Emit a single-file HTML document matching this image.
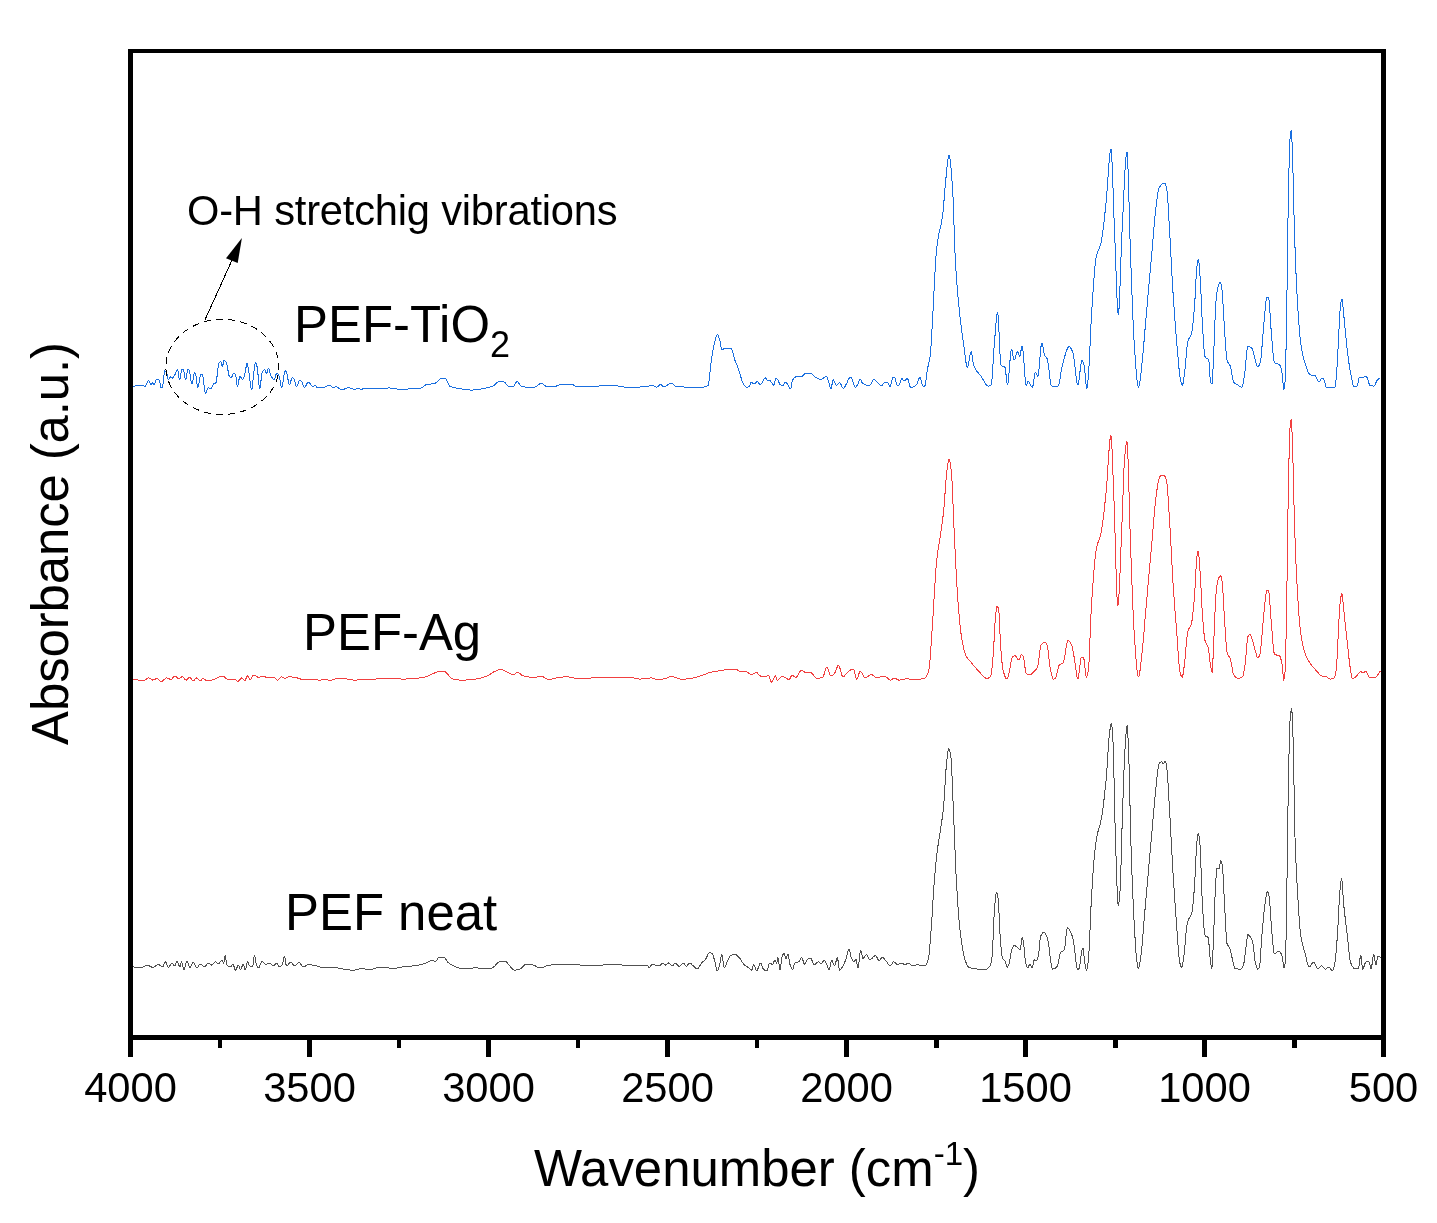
<!DOCTYPE html>
<html><head><meta charset="utf-8"><title>FTIR spectra</title>
<style>
html,body{margin:0;padding:0;background:#fff;}
body{width:1437px;height:1223px;overflow:hidden;}
svg{display:block;will-change:transform;}
text{font-family:"Liberation Sans",sans-serif;fill:#000;}
.tl text{font-size:41.67px;text-anchor:middle;}
.curve{fill:none;stroke-linejoin:round;stroke-linecap:butt;shape-rendering:crispEdges;}
</style></head>
<body>
<svg width="1437" height="1223" viewBox="0 0 1437 1223">
<rect x="0" y="0" width="1437" height="1223" fill="#fff"/>
<!-- spectra -->
<path class="curve" stroke="#1a6fdf" stroke-width="1" d="M133.1 386.5L133.6 386.3L134.1 386.2L134.6 386.1L135.1 386.0L135.6 385.9L136.1 385.8L136.6 385.7L137.1 385.6L137.6 385.6L138.1 385.5L138.6 385.5L139.1 385.5L139.6 385.4L140.1 385.4L140.6 385.4L141.1 385.4L141.6 385.4L142.1 385.4L142.6 385.4L143.1 385.4L143.6 385.6L144.1 386.0L144.6 386.4L144.9 386.5L145.1 386.4L145.6 385.9L146.1 384.9L146.6 383.7L147.1 382.5L147.6 381.4L148.1 380.7L148.5 380.5L148.6 380.5L149.1 381.1L149.6 382.1L150.1 383.4L150.6 384.4L151.1 385.0L151.2 385.0L151.6 384.5L152.1 383.4L152.5 382.9L152.6 382.9L153.1 383.6L153.6 384.5L153.9 384.7L154.1 384.6L154.6 383.8L155.1 382.5L155.6 381.1L156.1 379.8L156.6 379.2L156.7 379.2L157.1 379.2L157.6 379.4L158.1 379.6L158.6 379.9L159.1 380.2L159.4 380.5L159.6 380.9L160.1 383.2L160.6 386.0L161.1 387.7L161.2 387.8L161.6 387.7L162.1 387.3L162.5 386.8L162.6 386.6L163.1 383.7L163.6 379.0L164.1 374.2L164.6 371.2L164.8 370.9L165.1 370.9L165.6 371.1L166.1 371.4L166.3 371.5L166.6 372.1L167.1 374.3L167.6 377.1L168.1 379.2L168.4 379.6L168.6 379.5L169.1 379.0L169.6 378.1L170.1 377.3L170.6 376.9L171.1 377.3L171.6 377.9L172.0 378.2L172.1 378.2L172.6 378.0L173.1 377.5L173.6 376.8L174.1 376.1L174.2 376.0L174.6 375.3L175.1 374.2L175.6 373.0L176.1 371.7L176.6 370.6L177.1 369.9L177.5 369.7L177.6 369.8L178.1 371.7L178.6 375.0L179.1 378.2L179.6 379.6L180.1 378.4L180.6 375.7L181.1 372.4L181.6 369.9L182.0 369.1L182.1 369.1L182.6 369.2L183.1 369.6L183.3 369.7L183.6 370.3L184.1 372.7L184.6 375.8L185.1 378.5L185.6 379.6L186.1 378.4L186.6 375.7L187.1 372.4L187.6 369.9L188.0 369.1L188.1 369.1L188.6 369.6L189.1 370.4L189.2 370.6L189.6 371.9L190.1 374.7L190.6 378.1L191.1 381.2L191.6 383.2L191.9 383.6L192.1 383.4L192.6 381.9L193.1 379.2L193.6 376.2L194.1 373.7L194.6 372.4L194.7 372.4L195.1 372.8L195.6 374.1L195.9 375.1L196.1 376.1L196.6 380.2L197.1 384.9L197.6 387.7L197.7 387.8L198.1 387.2L198.6 385.3L199.1 382.5L199.6 379.5L200.1 376.7L200.6 374.8L201.0 374.2L201.1 374.2L201.6 374.4L202.1 374.8L202.4 375.1L202.6 375.5L203.1 377.9L203.6 381.6L204.1 385.8L204.6 389.7L205.1 392.4L205.5 393.2L205.6 393.2L206.1 392.5L206.6 391.2L207.1 389.8L207.6 388.5L208.1 387.8L208.2 387.8L208.6 387.9L209.1 388.0L209.6 388.3L210.1 388.5L210.6 388.7L210.9 388.7L211.1 388.6L211.6 388.0L212.1 386.9L212.6 385.6L213.1 384.4L213.6 383.7L213.7 383.6L214.1 383.4L214.6 383.3L215.1 383.2L215.6 383.0L215.8 382.9L216.1 382.3L216.6 379.7L217.1 375.7L217.6 371.3L218.1 367.0L218.6 363.8L219.1 362.4L219.6 362.2L220.1 362.0L220.6 361.9L220.9 361.9L221.1 362.2L221.6 364.4L222.1 366.6L222.3 366.9L222.6 366.4L223.1 364.1L223.6 361.5L224.1 360.2L224.6 360.4L225.1 360.8L225.6 361.4L226.1 362.1L226.3 362.4L226.6 363.1L227.1 365.2L227.6 368.0L228.1 371.0L228.6 373.8L229.1 375.9L229.6 376.9L230.1 377.1L230.6 377.3L231.1 377.4L231.4 377.4L231.6 377.3L232.1 376.4L232.6 375.1L233.1 373.8L233.6 373.3L234.1 373.4L234.6 373.6L235.1 373.9L235.4 374.2L235.6 374.7L236.1 377.7L236.6 381.9L237.1 385.4L237.5 386.5L237.6 386.4L238.1 384.9L238.6 382.1L239.1 379.0L239.6 376.8L239.9 376.4L240.1 376.5L240.6 376.9L241.1 377.7L241.6 378.6L242.1 379.3L242.6 379.6L243.1 379.2L243.6 378.1L244.1 376.5L244.6 374.9L244.8 374.2L245.1 373.0L245.6 370.1L246.1 366.9L246.6 364.3L247.1 363.3L247.6 364.5L248.1 367.2L248.6 370.6L248.9 372.4L249.1 373.6L249.6 377.3L250.1 381.3L250.6 385.2L251.1 388.1L251.6 389.6L251.7 389.6L252.1 388.4L252.6 384.3L253.1 378.9L253.6 373.9L253.8 372.4L254.1 370.3L254.6 366.6L255.1 363.6L255.6 362.4L256.1 363.1L256.6 364.8L257.1 366.9L257.6 370.3L258.1 375.3L258.6 380.9L259.1 385.6L259.6 388.4L259.8 388.7L260.1 388.0L260.6 384.5L261.1 379.6L261.6 374.9L262.1 372.4L262.6 371.5L263.1 370.8L263.6 370.2L264.1 369.9L264.6 369.7L264.7 369.7L265.1 370.2L265.6 371.5L266.1 372.8L266.5 373.3L266.6 373.3L267.1 372.2L267.6 370.5L268.1 368.9L268.5 368.4L268.6 368.4L269.1 369.5L269.6 371.5L270.1 373.6L270.6 375.1L271.1 376.0L271.6 376.9L272.1 377.7L272.6 378.4L273.1 379.0L273.6 379.4L274.1 379.6L274.3 379.6L274.6 379.3L275.1 377.8L275.6 375.8L276.1 374.1L276.6 373.3L277.1 373.4L277.6 373.8L278.1 374.3L278.6 375.0L279.1 375.8L279.2 376.0L279.6 377.3L280.1 380.1L280.6 383.4L281.1 386.3L281.6 387.8L281.7 387.8L282.1 387.1L282.6 384.8L283.1 381.5L283.6 377.7L284.1 374.2L284.6 371.6L285.1 370.6L285.6 370.9L286.1 371.5L286.6 372.4L287.1 374.1L287.6 376.9L288.1 380.1L288.6 382.9L289.1 384.5L289.3 384.7L289.6 384.5L290.1 383.5L290.6 381.9L291.1 380.2L291.6 378.6L292.1 377.6L292.4 377.4L292.6 377.4L293.1 377.9L293.6 378.6L294.1 379.4L294.2 379.6L294.6 380.6L295.1 382.5L295.6 384.5L296.1 386.0L296.5 386.5L296.6 386.5L297.1 385.9L297.6 384.8L298.1 383.4L298.6 382.0L299.1 380.9L299.6 380.5L300.1 380.6L300.6 380.8L301.1 381.2L301.4 381.4L301.6 381.6L302.1 382.5L302.6 383.7L303.1 385.1L303.6 386.3L304.1 387.2L304.5 387.4L304.6 387.4L305.1 387.0L305.6 386.3L306.1 385.3L306.6 384.2L307.1 383.3L307.6 382.6L308.1 382.3L308.6 382.4L309.1 382.8L309.6 383.2L310.1 383.8L310.6 384.5L311.1 385.1L311.6 385.7L312.1 386.3L312.6 386.6L313.1 386.8L313.2 386.8L313.6 386.6L314.1 386.1L314.6 385.6L315.0 385.4L315.1 385.4L315.6 385.7L316.1 386.3L316.6 386.9L317.1 387.5L317.6 387.8L317.7 387.8L318.1 387.8L318.6 387.8L319.1 387.8L319.6 387.8L320.1 387.7L320.6 387.7L321.1 387.7L321.6 387.6L322.1 387.6L322.6 387.5L323.1 387.5L323.6 387.4L324.0 387.4L324.1 387.4L324.6 387.3L325.1 387.1L325.6 386.8L326.1 386.5L326.6 386.2L327.1 385.9L327.6 385.6L328.1 385.4L328.6 385.2L329.1 385.0L329.5 385.0L329.6 385.0L330.1 385.2L330.6 385.6L331.1 386.2L331.6 386.7L332.1 387.3L332.6 387.7L333.1 387.8L333.6 387.7L334.1 387.5L334.6 387.2L335.1 387.0L335.6 386.8L335.8 386.8L336.1 386.8L336.6 386.9L337.1 387.1L337.6 387.4L338.1 387.6L338.6 388.0L339.1 388.3L339.6 388.6L340.1 388.9L340.6 389.2L341.1 389.4L341.6 389.5L342.1 389.6L342.6 389.6L343.1 389.5L343.6 389.3L344.1 389.2L344.6 389.0L345.1 388.8L345.6 388.6L346.1 388.3L346.6 388.2L347.1 388.0L347.6 387.9L348.1 387.8L348.4 387.8L348.6 387.8L349.1 387.8L349.6 387.9L350.1 388.0L350.6 388.2L351.1 388.3L351.6 388.5L352.1 388.7L352.6 388.8L353.1 389.0L353.6 389.1L354.1 389.2L354.6 389.2L354.8 389.2L355.1 389.2L355.6 389.1L356.1 389.1L356.6 388.9L357.1 388.8L357.6 388.8L358.1 388.7L358.4 388.7L358.6 388.7L359.1 388.8L359.6 389.0L360.1 389.2L360.6 389.3L361.1 389.4L361.6 389.3L362.1 389.2L362.6 389.0L363.1 388.8L363.6 388.7L363.8 388.7L364.1 388.7L364.6 388.7L365.1 388.6L365.6 388.6L366.1 388.6L366.6 388.6L367.1 388.6L367.6 388.6L368.1 388.6L368.6 388.6L369.1 388.5L369.6 388.5L370.1 388.5L370.6 388.5L371.1 388.5L371.6 388.5L372.1 388.5L372.6 388.5L373.1 388.5L373.6 388.5L374.1 388.5L374.6 388.5L375.1 388.5L375.6 388.5L376.1 388.5L376.6 388.5L377.1 388.5L377.6 388.5L378.1 388.5L378.6 388.4L379.1 388.4L379.6 388.4L380.1 388.4L380.6 388.4L381.1 388.4L381.6 388.4L382.1 388.4L382.6 388.4L383.1 388.4L383.6 388.3L384.1 388.3L384.6 388.3L385.0 388.3L385.1 388.3L385.6 388.3L386.1 388.2L386.6 388.1L387.1 388.0L387.6 388.0L388.1 387.9L388.4 387.9L388.6 387.9L389.1 387.9L389.6 387.9L390.1 388.0L390.6 388.0L391.1 388.1L391.6 388.1L392.1 388.2L392.6 388.3L393.1 388.3L393.6 388.4L394.1 388.5L394.6 388.6L395.1 388.7L395.6 388.8L396.1 388.8L396.6 388.9L397.1 389.0L397.6 389.1L398.1 389.1L398.6 389.2L399.1 389.2L399.6 389.3L400.1 389.3L400.6 389.3L400.9 389.3L401.1 389.3L401.6 389.3L402.1 389.3L402.6 389.3L403.1 389.3L403.6 389.2L404.1 389.2L404.6 389.2L405.1 389.2L405.6 389.1L406.1 389.1L406.6 389.1L407.1 389.0L407.6 389.0L408.1 389.0L408.6 388.9L409.1 388.9L409.2 388.9L409.6 388.9L410.1 388.9L410.6 388.8L411.1 388.8L411.6 388.8L412.1 388.8L412.6 388.7L413.1 388.7L413.6 388.7L414.1 388.7L414.6 388.6L415.1 388.6L415.6 388.6L416.1 388.5L416.6 388.5L417.1 388.5L417.6 388.4L418.1 388.4L418.6 388.3L419.1 388.3L419.6 388.2L420.1 388.2L420.6 388.1L421.1 388.0L421.6 387.9L421.8 387.9L422.1 387.8L422.6 387.4L423.1 386.9L423.6 386.3L424.1 385.8L424.6 385.4L424.9 385.2L425.1 385.1L425.6 385.0L426.1 384.8L426.6 384.7L427.1 384.6L427.6 384.5L428.1 384.4L428.6 384.3L429.1 384.2L429.6 384.2L430.1 384.1L430.6 384.1L431.1 384.0L431.6 383.9L432.1 383.9L432.6 383.8L433.1 383.7L433.6 383.6L434.1 383.5L434.6 383.3L435.1 383.2L435.3 383.1L435.6 383.0L436.1 382.7L436.6 382.2L437.1 381.8L437.6 381.2L438.1 380.7L438.6 380.2L439.1 379.7L439.6 379.3L440.1 379.0L440.5 378.9L440.6 378.9L441.1 378.8L441.6 378.7L442.1 378.6L442.6 378.5L443.1 378.4L443.6 378.4L444.1 378.3L444.6 378.3L445.1 378.3L445.6 378.5L446.1 379.1L446.6 380.0L447.1 381.0L447.6 382.2L448.1 383.4L448.6 384.5L449.1 385.4L449.6 386.0L449.9 386.2L450.1 386.3L450.6 386.5L451.1 386.7L451.6 386.9L452.1 387.1L452.6 387.2L453.1 387.4L453.6 387.5L454.1 387.6L454.6 387.8L455.1 387.9L455.6 388.0L456.1 388.1L456.6 388.2L457.1 388.3L457.6 388.3L458.1 388.4L458.6 388.5L459.1 388.6L459.6 388.6L460.1 388.7L460.6 388.8L461.1 388.9L461.4 388.9L461.6 388.9L462.1 389.0L462.6 389.1L463.1 389.2L463.6 389.3L464.1 389.3L464.6 389.4L465.1 389.5L465.6 389.6L466.1 389.6L466.6 389.7L467.1 389.8L467.6 389.8L468.1 389.9L468.6 389.9L469.1 389.9L469.6 390.0L470.1 390.0L470.6 390.0L470.8 390.0L471.1 390.0L471.6 390.0L472.1 390.0L472.6 390.0L473.1 389.9L473.6 389.9L474.1 389.9L474.6 389.8L475.1 389.8L475.6 389.7L476.1 389.6L476.6 389.6L477.1 389.5L477.6 389.4L478.1 389.4L478.6 389.3L479.1 389.2L479.6 389.1L480.1 389.0L480.6 389.0L481.1 388.9L481.6 388.8L482.1 388.7L482.6 388.6L483.1 388.5L483.6 388.4L484.1 388.4L484.4 388.3L484.6 388.3L485.1 388.2L485.6 388.1L486.1 388.0L486.6 387.9L487.1 387.8L487.6 387.7L488.1 387.6L488.6 387.5L489.1 387.3L489.6 387.2L490.1 387.1L490.6 386.9L491.1 386.8L491.6 386.6L492.1 386.4L492.6 386.2L492.7 386.2L493.1 386.0L493.6 385.7L494.1 385.3L494.6 384.8L495.1 384.4L495.6 383.8L496.1 383.3L496.6 382.9L497.1 382.4L497.6 382.1L498.1 381.8L498.6 381.6L499.0 381.6L499.1 381.6L499.6 381.6L500.1 381.6L500.6 381.6L501.1 381.6L501.6 381.6L502.1 381.6L502.6 381.6L503.1 381.6L503.2 381.6L503.6 381.7L504.1 381.9L504.6 382.2L505.1 382.7L505.6 383.3L506.1 383.9L506.6 384.5L507.1 385.0L507.6 385.6L508.1 386.0L508.6 386.4L509.1 386.6L509.4 386.6L509.6 386.6L510.1 386.6L510.6 386.6L511.1 386.5L511.6 386.5L512.1 386.4L512.6 386.4L513.1 386.3L513.6 386.2L514.1 385.9L514.6 385.1L515.1 384.2L515.6 383.2L516.1 382.4L516.6 381.8L517.0 381.6L517.1 381.6L517.6 381.8L518.1 382.2L518.6 382.8L519.1 383.5L519.6 384.3L520.1 385.1L520.6 385.8L521.1 386.3L521.6 386.7L522.0 386.8L522.1 386.8L522.6 386.8L523.1 386.9L523.6 386.9L524.1 386.9L524.6 387.0L525.1 387.0L525.6 387.0L526.1 387.0L526.6 387.1L527.1 387.1L527.6 387.1L528.1 387.1L528.6 387.1L529.1 387.1L529.6 387.1L530.1 387.2L530.6 387.2L531.1 387.2L531.6 387.2L532.1 387.2L532.6 387.2L533.1 387.2L533.6 387.2L534.1 387.2L534.5 387.2L534.6 387.2L535.1 387.1L535.6 386.9L536.1 386.7L536.6 386.3L537.1 386.0L537.6 385.6L538.1 385.1L538.6 384.7L539.1 384.4L539.6 384.0L540.1 383.8L540.6 383.6L541.1 383.5L541.2 383.5L541.6 383.5L542.1 383.7L542.6 383.9L543.1 384.3L543.6 384.6L544.1 385.0L544.6 385.4L545.1 385.8L545.6 386.1L546.1 386.4L546.6 386.5L547.0 386.6L547.1 386.6L547.6 386.6L548.1 386.7L548.6 386.7L549.1 386.7L549.6 386.7L550.1 386.7L550.6 386.8L551.1 386.8L551.6 386.8L552.1 386.8L552.6 386.8L553.1 386.8L553.3 386.8L553.6 386.8L554.1 386.7L554.6 386.6L555.1 386.5L555.6 386.4L556.1 386.2L556.6 386.0L557.1 385.8L557.6 385.6L558.1 385.4L558.6 385.2L559.1 385.0L559.6 384.8L560.1 384.7L560.6 384.6L561.1 384.5L561.6 384.5L562.1 384.5L562.6 384.5L563.1 384.5L563.6 384.5L564.1 384.5L564.6 384.5L565.1 384.5L565.6 384.5L566.1 384.5L566.6 384.5L567.1 384.5L567.6 384.5L568.1 384.5L568.6 384.5L569.1 384.5L569.6 384.5L570.1 384.5L570.6 384.5L571.1 384.5L571.6 384.5L572.1 384.5L572.6 384.6L573.1 384.8L573.6 385.0L574.1 385.3L574.6 385.6L575.1 385.9L575.6 386.1L576.1 386.2L576.2 386.2L576.6 386.2L577.1 386.2L577.6 386.2L578.1 386.2L578.6 386.2L579.1 386.2L579.6 386.2L580.1 386.2L580.6 386.2L581.1 386.2L581.6 386.2L582.1 386.2L582.6 386.2L583.1 386.2L583.6 386.2L584.1 386.2L584.6 386.2L585.1 386.1L585.6 386.1L586.1 386.1L586.6 386.1L587.1 386.1L587.6 386.1L588.1 386.1L588.6 386.1L589.1 386.1L589.6 386.1L590.1 386.1L590.6 386.1L591.1 386.1L591.6 386.1L592.1 386.1L592.6 386.1L593.1 386.0L593.6 386.0L594.1 386.0L594.6 386.0L595.1 386.0L595.6 386.0L596.1 386.0L596.6 386.0L597.1 386.0L597.6 386.0L598.1 386.0L598.6 386.0L599.1 386.0L599.6 385.9L600.1 385.9L600.6 385.9L601.1 385.9L601.6 385.9L602.1 385.9L602.6 385.9L603.1 385.9L603.6 385.9L604.1 385.9L604.6 385.9L605.1 385.9L605.6 385.9L606.1 385.9L606.6 385.9L607.1 385.9L607.6 385.8L608.1 385.8L608.6 385.8L609.1 385.8L609.6 385.8L610.1 385.8L610.6 385.8L611.1 385.8L611.6 385.8L612.1 385.8L612.6 385.8L613.1 385.8L613.6 385.8L614.1 385.8L614.6 385.8L615.1 385.8L615.6 385.8L615.9 385.8L616.1 385.8L616.6 385.8L617.1 385.9L617.6 385.9L618.1 386.0L618.6 386.0L619.1 386.1L619.6 386.2L620.1 386.3L620.6 386.4L621.1 386.5L621.6 386.6L622.1 386.7L622.6 386.8L623.1 386.9L623.6 387.0L624.1 387.0L624.6 387.1L625.1 387.1L625.6 387.2L626.1 387.2L626.3 387.2L626.6 387.2L627.1 387.2L627.6 387.2L628.1 387.2L628.6 387.2L629.1 387.2L629.6 387.2L630.1 387.2L630.6 387.2L631.1 387.2L631.6 387.2L632.1 387.2L632.6 387.2L633.1 387.1L633.6 387.1L634.1 387.1L634.6 387.1L635.1 387.1L635.6 387.1L636.1 387.1L636.6 387.1L637.1 387.1L637.6 387.0L638.1 387.0L638.6 387.0L639.1 387.0L639.6 387.0L640.1 387.0L640.6 386.9L641.1 386.9L641.6 386.9L642.1 386.9L642.6 386.8L643.1 386.8L643.6 386.8L644.1 386.8L644.6 386.7L645.1 386.7L645.6 386.7L646.1 386.7L646.6 386.6L647.1 386.6L647.2 386.6L647.6 386.6L648.1 386.5L648.6 386.3L649.1 386.1L649.6 385.9L650.1 385.7L650.6 385.6L651.1 385.4L651.6 385.3L652.1 385.2L652.4 385.2L652.6 385.2L653.1 385.3L653.6 385.6L654.1 385.9L654.6 386.3L655.1 386.6L655.6 386.9L656.1 387.1L656.6 387.2L657.1 387.1L657.6 386.7L658.1 386.3L658.6 385.7L659.1 385.2L659.6 384.8L660.1 384.5L660.4 384.5L660.6 384.5L661.1 384.7L661.6 385.1L662.1 385.6L662.6 386.1L663.1 386.5L663.6 386.8L663.9 386.8L664.1 386.8L664.6 386.7L665.1 386.6L665.6 386.3L666.1 386.0L666.6 385.7L667.1 385.4L667.6 385.0L668.1 384.7L668.6 384.3L669.1 384.0L669.6 383.7L670.1 383.4L670.6 383.2L671.1 383.1L671.5 383.1L671.6 383.1L672.1 383.3L672.6 383.6L673.1 384.1L673.6 384.6L674.1 385.1L674.6 385.6L675.1 386.0L675.6 386.2L675.7 386.2L676.1 386.3L676.6 386.3L677.1 386.4L677.6 386.4L678.1 386.5L678.6 386.6L679.1 386.6L679.6 386.7L680.1 386.7L680.6 386.8L681.1 386.8L681.6 386.8L682.1 386.9L682.6 386.9L683.1 386.9L683.6 387.0L684.1 387.0L684.6 387.0L685.1 387.1L685.6 387.1L686.1 387.1L686.6 387.1L687.1 387.1L687.6 387.2L688.1 387.2L688.6 387.2L689.1 387.2L689.6 387.2L690.1 387.2L690.6 387.2L691.1 387.2L691.3 387.2L691.6 387.2L692.1 387.2L692.6 387.2L693.1 387.2L693.6 387.2L694.1 387.2L694.6 387.2L695.1 387.2L695.6 387.2L696.1 387.2L696.6 387.2L697.1 387.2L697.6 387.2L698.1 387.2L698.6 387.2L699.1 387.2L699.6 387.2L700.1 387.2L700.6 387.2L701.1 387.2L701.6 387.2L701.8 387.2L702.1 387.2L702.6 387.2L703.1 387.1L703.6 387.1L704.1 387.0L704.6 386.9L705.1 386.8L705.6 386.6L706.1 386.5L706.6 386.3L707.1 386.1L707.6 385.8L708.0 385.6L708.1 385.5L708.6 383.7L709.1 380.3L709.6 375.8L710.1 370.8L710.6 366.1L711.1 362.2L711.6 358.9L712.1 355.5L712.6 352.3L713.1 349.3L713.6 346.5L714.1 344.2L714.3 343.4L714.6 342.2L715.1 340.3L715.6 338.4L716.1 336.7L716.6 335.5L717.1 334.7L717.4 334.6L717.6 334.7L718.1 335.3L718.6 336.5L719.1 338.0L719.5 339.2L719.6 339.5L720.1 341.8L720.6 344.7L721.1 347.5L721.6 349.5L722.0 350.1L722.1 350.1L722.6 349.9L723.1 349.4L723.6 348.9L724.1 348.4L724.6 348.2L724.7 348.2L725.1 348.2L725.6 348.2L726.1 348.2L726.6 348.2L727.1 348.3L727.6 348.3L728.1 348.3L728.6 348.3L729.1 348.4L729.6 348.4L730.1 348.5L730.6 348.5L731.0 348.6L731.1 348.6L731.6 349.2L732.1 350.2L732.6 351.7L733.1 353.5L733.6 355.5L734.1 357.4L734.6 359.3L735.1 360.8L735.2 361.1L735.6 362.1L736.1 363.3L736.6 364.5L737.1 365.6L737.6 366.8L738.1 368.0L738.3 368.5L738.6 369.3L739.1 370.9L739.6 372.5L740.1 374.3L740.6 376.0L741.1 377.8L741.6 379.4L742.1 381.0L742.6 382.3L743.1 383.4L743.5 384.1L743.6 384.2L744.1 385.0L744.6 385.7L745.1 386.3L745.6 386.8L746.1 387.1L746.6 387.2L747.1 387.2L747.6 387.0L748.1 386.9L748.6 386.6L749.1 386.2L749.6 385.8L749.8 385.6L750.1 384.7L750.6 382.3L750.8 382.0L751.1 382.1L751.6 382.3L752.1 382.8L752.6 383.3L753.1 383.8L753.6 384.0L753.9 384.1L754.1 384.1L754.6 383.8L755.1 383.3L755.6 382.7L756.1 382.2L756.6 381.8L757.1 381.6L757.6 381.8L758.1 382.3L758.6 383.0L759.1 383.7L759.6 384.2L760.1 384.5L760.2 384.5L760.6 384.4L761.1 384.0L761.6 383.3L762.1 382.5L762.6 381.5L763.1 380.6L763.6 379.7L764.1 378.8L764.6 378.2L765.1 377.9L765.4 377.8L765.6 377.9L766.1 378.5L766.6 379.4L767.1 380.2L767.5 380.4L767.6 380.4L768.1 380.4L768.6 380.4L769.1 380.4L769.6 380.4L770.1 380.6L770.6 381.1L771.1 381.8L771.6 382.6L772.1 383.5L772.6 384.2L773.1 384.8L773.6 385.2L773.8 385.2L774.1 384.8L774.6 383.0L775.1 380.5L775.6 378.7L775.9 378.3L776.1 378.3L776.6 378.5L777.1 378.9L777.6 379.4L778.0 379.9L778.1 380.0L778.6 381.2L779.1 382.8L779.6 384.2L780.0 384.7L780.1 384.7L780.6 384.9L781.1 385.0L781.6 385.1L782.1 385.1L782.6 385.2L783.1 385.2L783.2 385.2L783.6 384.9L784.1 383.9L784.6 382.8L785.1 382.1L785.3 382.0L785.6 382.1L786.1 382.4L786.6 382.9L787.1 383.6L787.6 384.2L787.8 384.5L788.1 384.9L788.6 385.9L789.1 387.0L789.6 388.0L790.1 388.7L790.5 388.9L790.6 388.8L791.1 387.3L791.6 384.5L792.1 381.6L792.6 379.9L793.1 379.2L793.6 378.7L794.1 378.1L794.6 377.7L795.1 377.2L795.6 376.9L796.1 376.6L796.6 376.4L797.1 376.3L797.6 376.2L797.8 376.2L798.1 376.2L798.6 376.3L799.1 376.4L799.6 376.6L800.1 376.7L800.6 376.8L800.9 376.8L801.1 376.8L801.6 376.6L802.1 376.2L802.6 375.8L803.1 375.3L803.6 374.7L804.1 374.3L804.6 373.9L805.1 373.7L805.6 373.6L806.1 373.5L806.6 373.4L807.1 373.3L807.6 373.2L808.1 373.1L808.6 373.1L809.1 373.0L809.6 373.0L810.1 373.0L810.3 373.0L810.6 373.0L811.1 373.2L811.6 373.5L812.1 373.9L812.6 374.4L813.1 375.0L813.6 375.5L814.1 376.1L814.6 376.5L815.1 376.9L815.5 377.2L815.6 377.3L816.1 377.5L816.6 377.8L817.1 378.1L817.6 378.3L818.1 378.6L818.6 378.8L819.1 379.0L819.6 379.1L820.1 379.2L820.6 379.3L820.8 379.3L821.1 379.3L821.6 379.1L822.1 378.9L822.6 378.6L823.1 378.3L823.6 378.0L823.9 377.8L824.1 377.7L824.6 377.3L825.1 377.0L825.6 376.6L826.1 376.4L826.4 376.4L826.6 376.5L827.1 377.3L827.6 378.5L828.1 379.9L828.6 381.5L829.1 383.7L829.6 385.9L830.1 387.7L830.6 388.8L830.8 388.9L831.1 388.5L831.6 386.7L832.1 384.1L832.6 381.6L833.1 380.1L833.3 379.9L833.6 380.0L834.1 380.8L834.6 381.9L835.1 383.2L835.6 384.3L836.1 385.1L836.4 385.2L836.6 385.2L837.1 384.9L837.6 384.4L838.1 383.8L838.6 383.2L839.1 382.8L839.5 382.7L839.6 382.7L840.1 383.1L840.6 383.8L841.1 384.8L841.6 385.9L842.1 387.0L842.6 387.8L843.1 388.3L843.3 388.3L843.6 388.2L844.1 387.9L844.6 387.2L845.1 386.4L845.6 385.4L846.1 384.4L846.6 383.5L846.8 383.1L847.1 382.5L847.6 381.2L848.1 380.0L848.6 378.9L848.9 378.5L849.1 378.3L849.6 377.9L850.1 377.5L850.6 377.3L851.0 377.2L851.1 377.2L851.6 377.8L852.1 378.9L852.6 380.4L853.1 382.2L853.6 384.0L854.1 385.5L854.6 386.6L855.1 387.2L855.2 387.2L855.6 387.1L856.1 386.7L856.6 386.1L857.1 385.3L857.6 384.4L858.1 383.5L858.3 383.1L858.6 382.4L859.1 380.8L859.6 379.4L860.0 378.9L860.1 378.9L860.6 379.4L861.1 380.4L861.6 381.6L862.1 382.6L862.5 383.1L862.6 383.2L863.1 383.6L863.6 383.9L864.1 384.3L864.6 384.6L865.1 384.8L865.6 385.0L866.1 385.1L866.6 385.2L866.7 385.2L867.1 385.2L867.6 385.2L868.1 385.2L868.6 385.2L869.1 385.2L869.6 385.2L869.8 385.2L870.1 385.1L870.6 384.6L871.1 383.9L871.6 382.9L872.1 381.8L872.6 380.8L873.1 380.0L873.6 379.5L874.0 379.3L874.1 379.3L874.6 379.5L875.1 379.9L875.6 380.4L876.1 380.9L876.6 381.5L877.1 382.0L877.6 382.5L878.1 383.0L878.6 383.6L879.1 384.1L879.6 384.7L880.1 385.1L880.6 385.4L881.1 385.6L881.3 385.6L881.6 385.5L882.1 385.3L882.6 384.8L883.1 384.2L883.6 383.5L884.1 382.9L884.6 382.4L885.1 382.1L885.5 382.0L885.6 382.0L886.1 382.1L886.6 382.2L887.1 382.4L887.6 382.7L888.1 383.0L888.2 383.1L888.6 383.7L889.1 385.0L889.6 386.2L890.1 386.8L890.6 386.0L891.1 384.0L891.6 381.6L892.1 379.3L892.6 377.9L892.8 377.8L893.1 377.8L893.6 377.8L894.1 377.8L894.6 377.8L894.9 377.8L895.1 378.0L895.6 379.7L896.1 382.3L896.6 384.5L897.0 385.2L897.1 385.2L897.6 385.2L898.1 385.2L898.6 385.2L899.0 385.2L899.1 385.2L899.6 384.4L900.1 382.9L900.6 381.1L901.1 379.5L901.6 378.6L901.8 378.5L902.1 378.6L902.6 379.1L903.1 379.8L903.6 380.5L904.1 381.0L904.3 381.0L904.6 380.9L905.1 380.6L905.6 380.0L906.1 379.5L906.6 378.9L907.1 378.6L907.4 378.5L907.6 378.6L908.1 379.6L908.6 381.4L909.1 383.5L909.6 385.4L910.1 386.8L910.5 387.2L910.6 387.2L911.1 387.2L911.6 387.1L912.1 387.1L912.6 387.0L913.1 386.9L913.6 386.8L913.7 386.8L914.1 386.7L914.6 386.4L915.1 386.0L915.6 385.5L916.1 384.9L916.6 384.3L916.8 384.1L917.1 383.6L917.6 382.4L918.1 381.0L918.6 379.6L919.1 378.3L919.6 377.5L919.9 377.4L920.1 377.5L920.6 378.5L921.1 380.3L921.6 382.4L922.1 384.4L922.6 385.8L923.0 386.2L923.1 386.2L923.6 386.2L924.1 386.2L924.6 386.2L924.7 386.2L925.1 385.4L925.6 382.7L926.1 378.9L926.6 374.8L927.1 371.1L927.2 370.5L927.6 368.4L928.1 366.1L928.6 364.0L929.1 361.8L929.6 359.3L930.1 356.1L930.4 353.8L930.6 351.8L931.1 344.6L931.6 335.9L931.9 330.8L932.1 327.5L932.6 318.7L933.1 309.2L933.6 299.4L934.1 289.5L934.6 279.8L935.1 270.6L935.6 262.3L936.1 255.1L936.6 249.3L936.8 247.4L937.1 244.9L937.6 241.3L938.1 238.2L938.6 235.5L939.1 233.0L939.6 230.8L940.1 228.7L940.6 226.5L941.1 224.2L941.6 221.6L942.1 218.7L942.6 215.3L942.9 213.0L943.1 211.2L943.6 205.8L944.1 199.4L944.6 192.8L945.1 186.7L945.4 183.6L945.6 181.7L946.1 176.5L946.6 171.2L947.1 166.2L947.6 161.7L948.1 158.2L948.6 156.0L949.0 155.4L949.1 155.4L949.6 156.7L950.1 159.6L950.6 163.9L951.1 169.3L951.6 175.5L952.1 182.4L952.6 189.5L952.7 191.0L953.1 198.7L953.6 212.2L954.1 227.7L954.6 242.9L955.1 255.3L955.2 257.2L955.6 264.1L956.1 272.1L956.6 279.4L957.1 286.0L957.6 292.1L958.1 297.8L958.6 303.1L958.9 306.2L959.1 308.2L959.6 313.0L960.1 317.5L960.6 321.8L961.1 325.8L961.6 329.7L962.1 333.5L962.6 337.1L963.1 340.6L963.6 344.1L963.8 345.5L964.1 347.7L964.6 351.6L965.1 355.7L965.6 359.7L966.1 363.1L966.6 365.8L967.1 367.3L967.4 367.6L967.6 367.5L968.1 366.1L968.6 363.6L969.1 360.6L969.6 357.4L970.1 354.5L970.6 352.4L971.1 351.6L971.6 352.8L972.1 355.7L972.6 359.4L973.1 362.9L973.6 365.1L974.1 366.3L974.6 367.4L975.1 368.4L975.6 369.3L976.1 370.1L976.6 370.8L977.1 371.5L977.6 372.1L978.1 372.7L978.6 373.3L979.1 373.8L979.6 374.4L980.1 375.0L980.6 375.7L980.9 376.1L981.1 376.4L981.6 377.2L982.1 378.0L982.6 378.9L983.1 379.7L983.6 380.6L984.1 381.5L984.6 382.4L985.1 383.2L985.6 383.9L986.1 384.5L986.6 385.1L987.1 385.5L987.6 385.8L988.1 386.0L988.3 386.0L988.6 386.0L989.1 385.9L989.6 385.7L990.1 385.5L990.6 385.2L991.1 384.8L991.2 384.7L991.6 383.1L992.1 378.3L992.6 371.2L993.1 362.8L993.6 354.4L994.1 346.7L994.4 343.0L994.6 340.7L995.1 334.5L995.6 328.1L996.1 322.1L996.6 317.1L997.1 313.7L997.6 312.4L998.1 315.4L998.6 323.1L999.1 333.7L999.6 345.1L1000.1 355.4L1000.6 362.7L1001.0 365.1L1001.1 365.2L1001.6 365.7L1002.1 366.0L1002.6 366.2L1003.1 366.3L1003.6 366.5L1004.1 366.7L1004.6 367.1L1005.0 367.5L1005.1 367.7L1005.6 370.6L1006.1 375.4L1006.6 380.5L1007.1 384.0L1007.4 384.7L1007.6 384.5L1008.1 382.1L1008.6 377.7L1009.1 372.0L1009.6 365.7L1010.1 359.5L1010.6 354.3L1011.1 350.6L1011.6 349.2L1012.1 350.4L1012.6 353.3L1013.1 356.7L1013.6 359.4L1014.0 360.2L1014.1 360.2L1014.6 359.6L1015.1 358.4L1015.6 356.8L1016.1 355.0L1016.6 353.4L1017.1 352.2L1017.6 351.6L1017.7 351.6L1018.1 352.1L1018.6 353.7L1019.1 355.4L1019.6 356.5L1019.7 356.5L1020.1 355.7L1020.6 353.2L1021.1 349.9L1021.6 347.2L1022.1 346.0L1022.6 347.6L1023.1 351.7L1023.6 357.7L1024.1 364.6L1024.6 371.6L1025.1 378.1L1025.6 383.0L1026.1 385.7L1026.3 386.0L1026.6 385.6L1027.1 383.7L1027.6 381.7L1028.0 381.0L1028.1 381.0L1028.6 381.3L1029.1 382.0L1029.6 382.9L1030.1 383.9L1030.6 384.9L1031.1 385.9L1031.6 386.7L1032.1 387.1L1032.4 387.2L1032.6 387.0L1033.1 385.2L1033.6 382.0L1034.1 378.4L1034.6 375.1L1035.1 372.9L1035.4 372.5L1035.6 372.6L1036.1 373.2L1036.6 374.3L1037.1 375.4L1037.6 376.0L1037.8 376.1L1038.1 375.6L1038.6 372.7L1039.1 367.9L1039.6 362.0L1040.1 355.9L1040.6 350.1L1041.1 345.7L1041.6 343.2L1041.8 343.0L1042.1 343.3L1042.6 344.9L1043.1 347.5L1043.6 350.4L1044.1 353.1L1044.6 355.1L1044.7 355.3L1045.1 356.0L1045.6 356.7L1046.1 357.3L1046.6 357.9L1047.1 358.8L1047.2 359.0L1047.6 360.4L1048.1 363.2L1048.6 366.9L1049.1 371.1L1049.6 375.5L1050.1 379.5L1050.6 382.8L1051.1 385.1L1051.6 386.0L1052.1 386.0L1052.6 386.0L1053.1 386.0L1053.6 386.0L1054.1 386.0L1054.6 386.0L1055.1 386.0L1055.6 386.0L1056.1 386.0L1056.6 386.0L1057.1 386.0L1057.6 386.0L1058.1 386.0L1058.2 386.0L1058.6 385.5L1059.1 383.9L1059.6 381.3L1060.1 378.2L1060.6 374.8L1061.1 371.6L1061.6 368.8L1061.9 367.5L1062.1 366.7L1062.6 364.8L1063.1 362.9L1063.6 360.9L1064.1 359.0L1064.6 357.1L1065.1 355.2L1065.6 353.5L1066.1 351.9L1066.6 350.5L1067.1 349.3L1067.6 348.2L1068.1 347.4L1068.6 346.9L1069.1 346.7L1069.2 346.7L1069.6 346.8L1070.1 347.2L1070.6 347.8L1071.1 348.7L1071.6 349.7L1072.1 350.8L1072.6 352.0L1072.9 352.8L1073.1 353.4L1073.6 355.9L1074.1 359.4L1074.6 363.5L1075.1 368.0L1075.6 372.6L1076.1 376.8L1076.6 380.5L1077.1 383.2L1077.6 384.6L1077.8 384.7L1078.1 384.3L1078.6 382.4L1079.1 379.1L1079.6 375.1L1080.1 370.7L1080.6 366.6L1081.1 363.1L1081.6 360.8L1082.0 360.2L1082.1 360.2L1082.6 360.8L1083.1 362.0L1083.6 363.7L1084.0 365.1L1084.1 365.5L1084.6 369.1L1085.1 374.2L1085.6 379.7L1086.1 384.6L1086.6 387.8L1086.9 388.4L1087.1 388.1L1087.6 384.7L1088.1 378.8L1088.6 371.7L1088.9 367.5L1089.1 364.5L1089.6 354.9L1090.1 343.7L1090.6 332.2L1091.1 321.9L1091.3 318.5L1091.6 313.7L1092.1 305.7L1092.6 297.9L1093.1 290.3L1093.6 283.1L1094.1 276.5L1094.6 270.5L1095.1 265.2L1095.6 261.0L1096.1 257.7L1096.2 257.2L1096.6 255.4L1097.1 253.6L1097.6 252.0L1098.1 250.8L1098.6 249.6L1099.1 248.5L1099.6 247.3L1100.1 246.0L1100.6 244.4L1101.1 242.4L1101.6 239.9L1102.1 236.9L1102.6 233.4L1103.1 229.5L1103.6 225.4L1104.1 220.9L1104.6 216.3L1105.1 211.6L1105.6 206.9L1106.0 203.2L1106.1 202.2L1106.6 196.7L1107.1 190.1L1107.6 183.0L1108.1 175.6L1108.6 168.4L1109.1 161.8L1109.6 156.2L1110.1 152.0L1110.6 149.6L1110.9 149.2L1111.1 149.7L1111.6 154.6L1112.1 163.9L1112.6 176.4L1113.1 190.7L1113.6 205.7L1114.1 220.1L1114.6 232.6L1115.1 245.1L1115.6 259.3L1116.1 274.0L1116.6 288.1L1117.1 300.4L1117.6 309.5L1118.1 314.3L1118.3 314.8L1118.6 313.7L1119.1 307.5L1119.6 297.1L1120.1 283.9L1120.6 269.3L1121.1 254.6L1121.6 241.3L1122.0 232.6L1122.1 230.7L1122.6 220.5L1123.1 209.7L1123.6 198.7L1124.1 187.9L1124.6 177.8L1125.1 168.8L1125.6 161.4L1126.1 155.9L1126.6 152.7L1126.9 152.2L1127.1 152.8L1127.6 159.3L1128.1 171.4L1128.6 187.4L1129.1 205.7L1129.6 224.5L1130.1 242.3L1130.6 257.2L1131.1 270.4L1131.6 283.9L1132.1 297.3L1132.6 310.2L1133.1 322.1L1133.6 332.7L1134.1 341.5L1134.2 343.0L1134.6 349.0L1135.1 356.4L1135.6 363.6L1136.1 370.4L1136.6 376.3L1137.1 381.2L1137.6 384.8L1138.1 386.8L1138.4 387.2L1138.6 387.1L1139.1 385.9L1139.6 383.6L1140.1 380.3L1140.6 376.3L1141.1 371.8L1141.6 367.0L1142.1 362.0L1142.6 357.2L1142.8 355.3L1143.1 352.3L1143.6 346.7L1144.1 340.5L1144.6 334.4L1144.9 330.8L1145.1 328.5L1145.6 322.8L1146.1 317.0L1146.6 311.3L1147.1 305.7L1147.6 300.0L1148.1 294.3L1148.6 288.7L1149.1 283.1L1149.6 277.5L1150.1 271.9L1150.6 266.3L1151.1 260.7L1151.6 255.2L1152.1 249.6L1152.3 247.4L1152.6 244.0L1153.1 238.2L1153.6 232.2L1154.1 226.3L1154.6 220.7L1155.1 215.4L1155.6 210.6L1155.9 208.1L1156.1 206.5L1156.6 202.4L1157.1 198.5L1157.6 194.9L1158.1 191.8L1158.6 189.4L1159.1 188.0L1159.6 187.2L1160.1 186.4L1160.6 185.8L1161.1 185.1L1161.6 184.6L1162.1 184.1L1162.6 183.8L1163.1 183.5L1163.6 183.3L1164.1 183.1L1164.5 183.1L1164.6 183.1L1165.1 183.7L1165.6 184.9L1166.1 186.7L1166.6 188.9L1167.0 190.9L1167.1 191.5L1167.6 196.6L1168.1 204.2L1168.6 213.2L1169.1 222.5L1169.4 227.7L1169.6 231.0L1170.1 239.8L1170.6 249.1L1171.1 258.6L1171.6 268.0L1172.1 277.2L1172.6 286.0L1173.1 294.0L1173.6 301.5L1174.1 308.7L1174.6 315.6L1175.1 322.3L1175.6 328.7L1176.1 334.8L1176.6 340.7L1176.8 343.0L1177.1 346.5L1177.6 352.4L1178.1 358.4L1178.6 364.2L1179.1 369.5L1179.6 374.1L1180.1 377.7L1180.5 379.8L1180.6 380.2L1181.1 382.2L1181.6 383.9L1182.1 385.0L1182.4 385.2L1182.6 385.0L1183.1 383.2L1183.6 380.2L1184.1 376.8L1184.2 376.1L1184.6 373.1L1185.1 368.1L1185.6 362.5L1186.1 356.6L1186.6 351.0L1187.1 346.2L1187.6 342.7L1187.8 341.8L1188.1 340.8L1188.6 339.4L1189.1 338.4L1189.6 337.6L1190.1 336.8L1190.6 335.8L1191.1 334.5L1191.5 333.2L1191.6 332.8L1192.1 330.1L1192.6 326.3L1193.1 321.7L1193.6 316.5L1194.1 310.9L1194.5 306.2L1194.6 305.0L1195.1 297.0L1195.6 287.4L1196.1 277.8L1196.6 270.1L1196.9 267.0L1197.1 265.5L1197.6 261.9L1198.1 259.6L1198.4 259.1L1198.6 259.5L1199.1 263.3L1199.6 269.7L1200.1 276.8L1200.6 285.3L1201.1 296.1L1201.6 307.8L1202.1 318.7L1202.5 325.8L1202.6 327.4L1203.1 335.4L1203.6 343.2L1204.1 349.9L1204.6 354.7L1205.0 356.5L1205.1 356.7L1205.6 357.4L1206.1 357.9L1206.6 358.2L1207.1 358.4L1207.6 358.8L1208.1 359.2L1208.6 360.0L1208.7 360.2L1209.1 363.1L1209.6 370.4L1210.1 378.1L1210.6 382.3L1211.1 383.3L1211.6 384.0L1212.1 384.2L1212.6 379.0L1213.1 367.4L1213.6 355.3L1214.1 343.7L1214.6 330.6L1215.1 317.9L1215.6 307.2L1216.0 301.3L1216.1 300.2L1216.6 295.3L1217.1 291.2L1217.6 288.1L1218.0 286.6L1218.1 286.3L1218.6 285.0L1219.1 283.9L1219.6 283.1L1220.1 282.5L1220.5 282.4L1220.6 282.5L1221.1 284.0L1221.6 287.0L1221.9 289.0L1222.1 290.6L1222.6 296.8L1223.1 305.0L1223.6 314.2L1224.1 323.1L1224.6 330.8L1225.1 337.9L1225.6 345.1L1226.1 351.8L1226.6 357.1L1227.1 360.2L1227.6 361.6L1228.1 362.6L1228.6 363.4L1229.1 364.1L1229.6 364.8L1230.1 365.8L1230.3 366.3L1230.6 367.3L1231.1 369.6L1231.6 372.5L1232.1 375.5L1232.6 378.4L1233.1 380.7L1233.6 382.2L1233.7 382.3L1234.1 382.7L1234.6 383.2L1235.1 383.6L1235.6 383.9L1236.1 384.2L1236.6 384.4L1237.1 384.7L1237.6 384.9L1238.1 385.2L1238.6 385.5L1239.1 385.9L1239.6 386.2L1240.1 386.6L1240.6 386.9L1241.1 387.1L1241.6 387.2L1241.8 387.2L1242.1 387.0L1242.6 385.6L1243.1 383.4L1243.6 380.7L1244.1 377.8L1244.2 377.3L1244.6 374.6L1245.1 370.0L1245.6 364.6L1246.1 359.0L1246.6 353.8L1247.1 349.6L1247.6 347.2L1247.9 346.7L1248.1 346.7L1248.6 346.7L1249.1 346.8L1249.6 347.0L1250.1 347.2L1250.6 347.4L1251.1 347.6L1251.6 347.9L1252.1 348.6L1252.6 349.8L1253.1 351.5L1253.6 353.5L1254.1 355.6L1254.6 357.7L1255.1 359.6L1255.3 360.2L1255.6 361.2L1256.1 363.0L1256.6 364.9L1257.1 366.3L1257.6 367.0L1257.7 367.0L1258.1 366.9L1258.6 366.3L1259.1 365.4L1259.6 364.2L1260.1 362.9L1260.2 362.6L1260.6 360.8L1261.1 356.9L1261.6 351.6L1262.1 345.5L1262.6 338.9L1263.1 332.5L1263.6 326.5L1263.9 323.4L1264.1 321.4L1264.6 315.7L1265.1 309.8L1265.6 304.4L1266.1 300.1L1266.6 297.8L1266.8 297.6L1267.1 297.6L1267.6 297.6L1268.1 297.6L1268.5 297.6L1268.6 297.7L1269.1 300.6L1269.6 306.7L1270.1 314.5L1270.6 322.6L1271.1 329.6L1271.2 330.8L1271.6 335.5L1272.1 341.9L1272.6 348.3L1273.1 354.1L1273.6 358.9L1274.1 361.9L1274.4 362.6L1274.6 362.8L1275.1 363.2L1275.6 363.4L1276.1 363.6L1276.6 363.8L1277.1 363.9L1277.6 364.0L1278.1 364.1L1278.6 364.3L1279.1 364.6L1279.6 364.9L1279.8 365.1L1280.1 365.5L1280.6 366.8L1281.1 368.7L1281.6 371.0L1282.1 373.7L1282.3 374.9L1282.6 377.7L1283.1 384.4L1283.6 388.9L1283.7 389.1L1284.1 388.3L1284.6 385.4L1285.1 380.9L1285.2 379.8L1285.6 369.7L1286.1 345.5L1286.6 316.7L1286.7 311.1L1287.1 285.5L1287.6 247.8L1288.1 212.3L1288.4 195.8L1288.6 186.6L1289.1 164.5L1289.6 146.8L1290.1 137.0L1290.6 133.0L1291.1 130.6L1291.3 130.4L1291.6 132.8L1292.1 144.3L1292.6 159.0L1293.1 176.2L1293.6 197.3L1294.1 218.4L1294.5 232.6L1294.6 235.6L1295.1 250.1L1295.6 263.5L1296.1 275.7L1296.6 286.5L1297.0 294.0L1297.1 295.7L1297.6 304.3L1298.1 312.3L1298.6 319.8L1299.1 326.7L1299.6 332.8L1300.1 338.0L1300.6 342.3L1300.7 343.0L1301.1 345.7L1301.6 348.8L1302.1 351.6L1302.6 354.2L1303.1 356.4L1303.6 358.5L1304.1 360.3L1304.6 362.0L1304.8 362.6L1305.1 363.5L1305.6 365.0L1306.1 366.5L1306.6 368.0L1307.1 369.4L1307.6 370.6L1308.1 371.8L1308.6 372.8L1309.1 373.7L1309.6 374.3L1310.1 374.7L1310.5 374.9L1310.6 374.9L1311.1 375.0L1311.6 375.1L1312.1 375.1L1312.6 375.2L1313.1 375.2L1313.6 375.2L1314.1 375.3L1314.6 375.4L1315.1 375.7L1315.6 376.4L1316.1 377.3L1316.6 378.3L1317.1 379.4L1317.6 380.3L1318.1 381.1L1318.6 381.7L1319.0 381.8L1319.1 381.8L1319.6 381.4L1320.1 380.7L1320.6 379.8L1321.1 378.9L1321.6 378.3L1322.0 378.1L1322.1 378.1L1322.6 378.3L1323.1 378.7L1323.6 379.3L1324.0 379.8L1324.1 380.0L1324.6 381.5L1325.1 383.6L1325.6 385.8L1326.1 387.3L1326.4 387.6L1326.6 387.6L1327.1 387.6L1327.6 387.6L1328.1 387.6L1328.6 387.6L1329.1 387.6L1329.6 387.6L1330.1 387.5L1330.6 387.5L1331.1 387.5L1331.6 387.5L1332.1 387.5L1332.6 387.4L1333.1 387.4L1333.6 387.3L1334.1 387.3L1334.6 387.2L1335.0 387.2L1335.1 387.1L1335.6 384.5L1336.1 379.4L1336.6 372.8L1337.0 367.5L1337.1 366.1L1337.6 357.8L1338.1 347.8L1338.6 337.3L1339.1 327.5L1339.2 325.8L1339.6 318.4L1340.1 309.4L1340.6 303.8L1341.1 301.3L1341.6 299.7L1341.9 299.4L1342.1 299.8L1342.6 303.1L1343.1 308.4L1343.6 313.6L1344.1 318.3L1344.6 323.4L1345.1 328.7L1345.6 334.0L1346.1 339.2L1346.6 344.2L1347.1 348.7L1347.3 350.4L1347.6 352.8L1348.1 356.7L1348.6 360.5L1349.1 364.1L1349.6 367.5L1350.1 370.6L1350.6 373.4L1350.9 374.9L1351.1 375.9L1351.6 378.4L1352.1 380.9L1352.6 383.1L1353.1 385.0L1353.6 386.2L1354.1 386.7L1354.6 386.7L1355.1 386.6L1355.6 386.5L1356.1 386.4L1356.6 386.2L1357.1 386.0L1357.6 384.9L1358.1 382.6L1358.6 380.0L1359.1 377.9L1359.5 377.3L1359.6 377.3L1360.1 377.4L1360.6 377.5L1361.1 377.7L1361.6 377.8L1362.0 377.8L1362.1 377.8L1362.6 377.7L1363.1 377.4L1363.6 377.1L1364.1 376.8L1364.6 376.5L1365.1 376.2L1365.6 376.1L1365.7 376.1L1366.1 376.3L1366.6 376.8L1367.1 377.7L1367.6 378.6L1368.1 380.0L1368.6 381.9L1369.1 383.8L1369.6 385.0L1369.8 385.2L1370.1 385.3L1370.6 385.5L1371.1 385.6L1371.6 385.7L1372.1 385.8L1372.6 385.9L1373.1 386.0L1373.6 386.0L1374.1 386.0L1374.2 386.0L1374.6 385.7L1375.1 384.8L1375.6 383.5L1376.1 382.2L1376.6 381.1L1376.7 381.0L1377.1 380.5L1377.6 379.9L1378.1 379.4L1378.6 378.9L1379.1 378.4L1379.6 378.1L1380.1 377.9L1380.4 377.8"/>
<path class="curve" stroke="#f14040" stroke-width="1" d="M133.4 679.5L133.9 679.6L134.4 679.6L134.9 679.7L135.4 679.8L135.9 679.8L136.4 679.9L136.9 679.9L137.4 679.9L137.9 680.0L138.4 680.0L138.9 680.0L139.4 680.0L139.9 680.1L140.4 680.1L140.9 680.1L141.4 680.1L141.9 680.1L142.4 680.1L142.9 680.1L143.4 680.1L143.9 680.1L144.4 680.1L144.5 680.1L144.9 680.0L145.4 679.8L145.9 679.5L146.4 679.2L146.9 678.8L147.4 678.4L147.9 678.1L148.4 677.9L148.7 677.9L148.9 677.9L149.4 678.1L149.9 678.4L150.4 678.7L150.9 679.1L151.4 679.5L151.9 679.8L152.4 680.0L152.8 680.1L152.9 680.1L153.4 680.0L153.9 679.8L154.4 679.5L154.9 679.3L155.4 679.0L155.9 678.7L156.4 678.5L156.9 678.4L157.0 678.4L157.4 678.5L157.9 678.8L158.4 679.2L158.9 679.7L159.4 680.3L159.9 680.8L160.4 681.2L160.9 681.5L161.2 681.5L161.4 681.5L161.9 681.3L162.4 681.1L162.9 680.7L163.4 680.3L163.9 679.8L164.4 679.3L164.9 678.9L165.4 678.5L165.9 678.1L166.4 678.0L166.8 677.9L166.9 677.9L167.4 678.0L167.9 678.2L168.4 678.4L168.9 678.7L169.4 679.0L169.9 679.3L170.4 679.4L170.9 679.5L171.4 679.4L171.9 679.0L172.4 678.5L172.9 677.8L173.4 677.2L173.9 676.6L174.4 676.2L174.9 675.9L175.1 675.9L175.4 676.0L175.9 676.3L176.4 676.9L176.9 677.5L177.4 678.1L177.9 678.5L178.4 678.7L178.9 678.6L179.4 678.4L179.9 678.0L180.4 677.6L180.9 677.3L181.4 677.0L181.9 676.8L182.1 676.8L182.4 676.9L182.9 677.1L183.4 677.6L183.9 678.1L184.4 678.8L184.9 679.3L185.4 679.8L185.9 680.0L186.2 680.1L186.4 680.1L186.9 679.8L187.4 679.3L187.9 678.7L188.4 678.1L188.9 677.6L189.4 677.3L189.6 677.3L189.9 677.4L190.4 677.7L190.9 678.3L191.4 679.0L191.9 679.7L192.4 680.3L192.9 680.6L193.2 680.7L193.4 680.7L193.9 680.4L194.4 680.0L194.9 679.4L195.4 678.8L195.9 678.3L196.4 678.0L196.8 677.9L196.9 677.9L197.4 678.1L197.9 678.6L198.4 679.2L198.9 679.8L199.4 680.3L199.9 680.6L200.2 680.7L200.4 680.7L200.9 680.4L201.4 679.9L201.9 679.3L202.4 678.9L202.9 678.7L203.4 678.8L203.9 679.0L204.4 679.3L204.9 679.6L205.4 680.0L205.9 680.3L206.4 680.6L206.9 680.7L207.1 680.7L207.4 680.7L207.9 680.7L208.4 680.6L208.9 680.6L209.4 680.5L209.9 680.5L210.4 680.4L210.9 680.3L211.4 680.2L211.9 680.0L212.4 679.9L212.9 679.8L213.4 679.7L213.9 679.6L214.1 679.5L214.4 679.4L214.9 679.2L215.4 678.9L215.9 678.6L216.4 678.3L216.9 677.9L217.4 677.6L217.9 677.3L218.4 677.1L218.9 676.9L219.4 676.8L219.6 676.8L219.9 676.8L220.4 676.8L220.9 676.8L221.4 676.8L221.9 676.8L222.4 676.8L222.9 676.8L223.4 676.8L223.8 676.8L223.9 676.8L224.4 677.0L224.9 677.5L225.4 678.1L225.9 678.6L226.4 678.9L226.6 679.0L226.9 679.0L227.4 679.1L227.9 679.1L228.4 679.2L228.9 679.2L229.4 679.2L229.9 679.2L230.4 679.2L230.9 679.3L231.4 679.3L231.9 679.3L232.4 679.3L232.9 679.3L233.4 679.3L233.9 679.4L234.4 679.4L234.9 679.5L235.0 679.5L235.4 679.7L235.9 680.1L236.4 680.6L236.9 681.1L237.4 681.4L237.7 681.5L237.9 681.5L238.4 681.2L238.9 680.8L239.4 680.2L239.9 679.6L240.4 678.9L240.9 678.4L241.4 678.0L241.9 677.9L242.4 678.1L242.9 678.7L243.4 679.4L243.9 680.1L244.4 680.6L244.7 680.7L244.9 680.6L245.4 679.9L245.9 678.8L246.4 677.5L246.9 676.5L247.4 675.9L247.5 675.9L247.9 676.1L248.4 676.8L248.9 677.7L249.4 678.6L249.9 679.3L250.3 679.5L250.4 679.5L250.9 679.1L251.4 678.4L251.9 677.4L252.4 676.4L252.9 675.6L253.4 675.1L253.6 675.1L253.9 675.1L254.4 675.3L254.9 675.5L255.4 675.8L255.9 676.1L256.4 676.4L256.9 676.7L257.4 677.0L257.9 677.2L258.4 677.3L258.6 677.3L258.9 677.3L259.4 677.2L259.9 677.0L260.4 676.9L260.9 676.7L261.4 676.5L261.9 676.3L262.4 676.2L262.8 676.2L262.9 676.2L263.4 676.3L263.9 676.4L264.4 676.5L264.9 676.7L265.4 677.0L265.9 677.2L266.4 677.4L266.9 677.6L267.4 677.8L267.9 677.9L268.4 677.9L268.9 677.9L269.4 677.8L269.9 677.8L270.4 677.7L270.9 677.6L271.4 677.6L271.9 677.5L272.4 677.4L272.9 677.4L273.4 677.3L273.9 677.3L274.4 677.4L274.9 677.8L275.4 678.4L275.9 678.9L276.4 679.5L276.9 679.9L277.4 680.1L277.5 680.1L277.9 680.0L278.4 679.7L278.9 679.1L279.4 678.5L279.9 677.9L280.4 677.3L280.9 676.9L281.4 676.8L281.9 676.9L282.4 677.1L282.9 677.4L283.4 677.7L283.9 678.0L284.4 678.2L284.9 678.4L285.1 678.4L285.4 678.4L285.9 678.2L286.4 678.0L286.9 677.7L287.4 677.5L287.9 677.2L288.4 677.0L288.9 676.8L289.2 676.8L289.4 676.8L289.9 676.8L290.4 676.8L290.9 676.9L291.4 676.9L291.9 676.9L292.4 677.0L292.9 677.1L293.4 677.1L293.9 677.2L294.4 677.2L294.8 677.3L294.9 677.3L295.4 677.4L295.9 677.5L296.4 677.6L296.9 677.8L297.4 678.0L297.9 678.1L298.4 678.3L298.9 678.5L299.4 678.7L299.9 678.8L300.4 679.0L300.9 679.2L301.4 679.3L301.9 679.4L302.4 679.5L302.9 679.5L303.2 679.5L303.4 679.5L303.9 679.5L304.4 679.5L304.9 679.4L305.4 679.4L305.9 679.4L306.4 679.3L306.9 679.3L307.4 679.2L307.9 679.2L308.4 679.2L308.9 679.1L309.4 679.1L309.9 679.0L310.4 679.0L310.9 679.0L311.4 679.0L311.5 679.0L311.9 679.0L312.4 679.0L312.9 679.1L313.4 679.1L313.9 679.2L314.4 679.3L314.9 679.4L315.4 679.5L315.9 679.6L316.4 679.7L316.9 679.8L317.4 679.9L317.9 679.9L318.4 680.0L318.9 680.1L319.4 680.1L319.9 680.1L320.4 680.1L320.9 680.0L321.4 679.9L321.9 679.8L322.4 679.6L322.9 679.5L323.4 679.3L323.9 679.2L324.4 679.1L324.9 679.0L325.4 679.0L325.9 679.1L326.4 679.2L326.9 679.5L327.4 679.8L327.9 680.1L328.4 680.4L328.9 680.6L329.4 680.7L329.6 680.7L329.9 680.7L330.4 680.6L330.9 680.5L331.4 680.4L331.9 680.2L332.4 680.0L332.9 679.8L333.4 679.6L333.9 679.4L334.4 679.2L334.9 679.0L335.4 678.9L335.9 678.8L336.4 678.7L336.6 678.7L336.9 678.7L337.4 678.7L337.9 678.7L338.4 678.7L338.9 678.7L339.4 678.7L339.9 678.7L340.4 678.7L340.9 678.8L341.4 678.8L341.9 678.8L342.4 678.8L342.9 678.8L343.4 678.8L343.9 678.8L344.4 678.9L344.9 678.9L345.4 678.9L345.9 678.9L346.4 678.9L346.9 679.0L347.4 679.0L347.7 679.0L347.9 679.0L348.4 679.1L348.9 679.1L349.4 679.2L349.9 679.3L350.4 679.4L350.9 679.5L351.4 679.6L351.9 679.8L352.4 679.9L352.9 679.9L353.4 680.0L353.9 680.1L354.4 680.1L354.6 680.1L354.9 680.1L355.4 680.1L355.9 680.1L356.4 680.0L356.9 680.0L357.4 679.9L357.9 679.9L358.4 679.8L358.9 679.8L359.4 679.7L359.9 679.6L360.4 679.6L360.9 679.5L361.4 679.5L361.6 679.5L361.9 679.5L362.4 679.5L362.9 679.4L363.4 679.4L363.9 679.4L364.4 679.4L364.9 679.4L365.4 679.3L365.9 679.3L366.4 679.3L366.9 679.3L367.4 679.3L367.9 679.2L368.4 679.2L368.9 679.2L369.4 679.2L369.9 679.2L370.4 679.2L370.9 679.2L371.4 679.1L371.9 679.1L372.4 679.1L372.9 679.1L373.4 679.1L373.9 679.1L374.4 679.0L374.9 679.0L375.4 679.0L375.5 679.0L375.9 679.0L376.4 679.0L376.9 678.9L377.4 678.9L377.9 678.9L378.4 678.9L378.9 678.8L379.4 678.8L379.9 678.8L380.4 678.7L380.9 678.7L381.4 678.7L381.9 678.7L382.4 678.6L382.9 678.6L383.4 678.6L383.9 678.6L384.4 678.5L384.9 678.5L385.4 678.5L385.9 678.5L386.4 678.5L386.9 678.4L387.4 678.4L387.9 678.4L388.4 678.4L388.9 678.4L389.4 678.4L389.9 678.4L390.4 678.4L390.9 678.4L391.4 678.4L391.9 678.5L392.4 678.5L392.9 678.5L393.4 678.5L393.9 678.5L394.4 678.6L394.9 678.6L395.4 678.6L395.9 678.7L396.4 678.7L396.9 678.7L397.4 678.8L397.9 678.8L398.4 678.8L398.9 678.9L399.4 678.9L399.9 678.9L400.4 678.9L400.9 679.0L401.4 679.0L401.9 679.0L402.4 679.0L402.9 679.0L403.3 679.0L403.4 679.0L403.9 679.0L404.4 679.0L404.9 679.0L405.4 679.0L405.9 679.0L406.4 678.9L406.9 678.9L407.4 678.9L407.9 678.9L408.4 678.9L408.9 678.8L409.4 678.8L409.9 678.8L410.4 678.7L410.9 678.7L411.4 678.7L411.9 678.6L412.4 678.6L412.9 678.6L413.4 678.5L413.9 678.5L414.4 678.4L414.9 678.4L415.4 678.4L415.9 678.3L416.4 678.3L416.9 678.2L417.3 678.2L417.4 678.2L417.9 678.1L418.4 678.1L418.9 678.1L419.4 678.0L419.9 677.9L420.4 677.9L420.9 677.8L421.4 677.8L421.9 677.7L422.4 677.6L422.9 677.5L423.4 677.4L423.9 677.4L424.2 677.3L424.4 677.3L424.9 677.1L425.4 677.0L425.9 676.8L426.4 676.6L426.9 676.4L427.4 676.2L427.9 676.0L428.4 675.8L428.9 675.5L429.4 675.3L429.9 675.1L430.4 674.8L430.9 674.6L431.2 674.5L431.4 674.4L431.9 674.2L432.4 674.0L432.9 673.8L433.4 673.5L433.9 673.3L434.4 673.1L434.9 672.8L435.4 672.6L435.9 672.4L436.4 672.2L436.9 672.1L437.4 671.9L437.9 671.8L438.1 671.8L438.4 671.8L438.9 671.7L439.4 671.6L439.9 671.5L440.4 671.4L440.9 671.4L441.4 671.3L441.9 671.3L442.4 671.2L442.9 671.2L443.4 671.2L443.7 671.2L443.9 671.2L444.4 671.4L444.9 671.6L445.4 672.0L445.9 672.5L446.4 673.0L446.9 673.5L447.4 674.0L447.9 674.5L448.4 675.0L448.9 675.6L449.4 676.2L449.9 676.8L450.4 677.4L450.9 677.9L451.4 678.3L451.9 678.6L452.1 678.7L452.4 678.8L452.9 678.9L453.4 679.0L453.9 679.2L454.4 679.3L454.9 679.4L455.4 679.5L455.9 679.6L456.4 679.7L456.9 679.7L457.4 679.8L457.9 679.9L458.4 679.9L458.9 680.0L459.4 680.0L459.9 680.0L460.4 680.1L460.9 680.1L461.4 680.1L461.8 680.1L461.9 680.1L462.4 680.1L462.9 680.1L463.4 680.1L463.9 680.1L464.4 680.0L464.9 680.0L465.4 680.0L465.9 680.0L466.4 679.9L466.9 679.9L467.4 679.9L467.9 679.8L468.4 679.8L468.9 679.8L469.4 679.7L469.9 679.7L470.4 679.6L470.9 679.6L471.4 679.5L471.9 679.5L472.4 679.4L472.9 679.3L473.4 679.3L473.9 679.2L474.4 679.2L474.9 679.1L475.4 679.0L475.7 679.0L475.9 679.0L476.4 678.9L476.9 678.8L477.4 678.7L477.9 678.6L478.4 678.5L478.9 678.4L479.4 678.3L479.9 678.2L480.4 678.1L480.9 677.9L481.4 677.8L481.9 677.6L482.4 677.5L482.9 677.3L483.4 677.2L483.9 677.0L484.4 676.8L484.9 676.6L485.4 676.5L485.9 676.3L486.4 676.1L486.9 675.9L487.4 675.7L487.9 675.5L488.4 675.2L488.9 674.9L489.4 674.6L489.9 674.3L490.4 674.0L490.9 673.7L491.4 673.3L491.9 673.0L492.4 672.7L492.9 672.4L493.4 672.1L493.9 671.8L494.4 671.5L494.9 671.3L495.2 671.2L495.4 671.1L495.9 670.9L496.4 670.7L496.9 670.5L497.4 670.3L497.9 670.1L498.4 669.9L498.9 669.8L499.4 669.7L499.9 669.6L500.4 669.5L500.8 669.5L500.9 669.5L501.4 669.6L501.9 669.7L502.4 669.8L502.9 670.0L503.4 670.3L503.9 670.5L504.4 670.8L504.9 671.1L505.4 671.3L505.9 671.6L506.4 671.8L506.9 672.0L507.4 672.2L507.9 672.5L508.4 672.8L508.9 673.0L509.4 673.3L509.9 673.5L510.4 673.8L510.9 674.0L511.4 674.2L511.9 674.3L512.4 674.4L512.9 674.5L513.3 674.5L513.4 674.5L513.9 674.4L514.4 674.2L514.9 673.9L515.4 673.6L515.9 673.2L516.4 672.9L516.9 672.7L517.4 672.6L517.5 672.6L517.9 672.6L518.4 672.8L518.9 673.0L519.4 673.3L519.9 673.7L520.4 674.0L520.9 674.4L521.4 674.8L521.9 675.2L522.4 675.5L522.9 675.7L523.4 675.9L523.9 676.0L524.4 676.1L524.9 676.2L525.4 676.3L525.9 676.4L526.4 676.5L526.9 676.6L527.4 676.7L527.9 676.8L528.4 676.8L528.9 676.9L529.4 677.0L529.9 677.0L530.4 677.1L530.9 677.1L531.4 677.2L531.9 677.2L532.4 677.2L532.9 677.3L533.4 677.3L533.9 677.3L534.4 677.3L534.5 677.3L534.9 677.3L535.4 677.2L535.9 677.2L536.4 677.1L536.9 677.0L537.4 676.9L537.9 676.8L538.4 676.6L538.9 676.5L539.4 676.4L539.9 676.3L540.4 676.3L540.9 676.2L541.4 676.2L541.9 676.2L542.4 676.4L542.9 676.6L543.4 676.9L543.9 677.2L544.4 677.5L544.9 677.8L545.4 678.2L545.9 678.5L546.4 678.8L546.9 679.1L547.4 679.3L547.9 679.5L548.4 679.5L548.9 679.5L549.4 679.5L549.9 679.4L550.4 679.3L550.9 679.2L551.4 679.1L551.9 679.0L552.4 678.9L552.9 678.8L553.4 678.6L553.9 678.5L554.4 678.4L554.9 678.3L555.4 678.2L555.9 678.1L556.4 678.0L556.8 677.9L556.9 677.9L557.4 677.8L557.9 677.7L558.4 677.7L558.9 677.6L559.4 677.5L559.9 677.4L560.4 677.4L560.9 677.3L561.4 677.2L561.9 677.1L562.4 677.1L562.9 677.0L563.4 677.0L563.9 676.9L564.4 676.9L564.9 676.8L565.4 676.8L565.9 676.8L566.4 676.8L566.5 676.8L566.9 676.8L567.4 676.8L567.9 676.9L568.4 676.9L568.9 677.0L569.4 677.1L569.9 677.2L570.4 677.3L570.9 677.4L571.4 677.5L571.9 677.6L572.4 677.7L572.9 677.8L573.4 677.9L573.9 678.0L574.4 678.1L574.9 678.1L575.4 678.2L575.9 678.2L576.2 678.2L576.4 678.2L576.9 678.2L577.4 678.2L577.9 678.2L578.4 678.2L578.9 678.2L579.4 678.2L579.9 678.2L580.4 678.2L580.9 678.2L581.4 678.2L581.9 678.2L582.4 678.1L582.9 678.1L583.4 678.1L583.9 678.1L584.4 678.1L584.9 678.1L585.4 678.1L585.9 678.1L586.4 678.1L586.9 678.1L587.4 678.0L587.9 678.0L588.4 678.0L588.9 678.0L589.4 678.0L589.9 678.0L590.4 678.0L590.9 678.0L591.4 677.9L591.9 677.9L592.4 677.9L592.9 677.9L593.4 677.9L593.9 677.9L594.4 677.8L594.9 677.8L595.4 677.8L595.9 677.7L596.4 677.7L596.9 677.7L597.4 677.6L597.9 677.6L598.4 677.6L598.9 677.5L599.4 677.5L599.9 677.5L600.4 677.4L600.9 677.4L601.4 677.4L601.9 677.4L602.4 677.3L602.9 677.3L603.4 677.3L603.9 677.3L604.1 677.3L604.4 677.3L604.9 677.3L605.4 677.3L605.9 677.3L606.4 677.3L606.9 677.4L607.4 677.4L607.9 677.4L608.4 677.4L608.9 677.5L609.4 677.5L609.9 677.5L610.4 677.6L610.9 677.6L611.4 677.6L611.9 677.7L612.4 677.7L612.9 677.7L613.4 677.7L613.9 677.8L614.4 677.8L614.9 677.8L615.4 677.8L615.9 677.9L616.4 677.9L616.9 677.9L617.4 677.9L617.9 677.9L618.0 677.9L618.4 677.9L618.9 677.9L619.4 677.9L619.9 677.9L620.4 677.8L620.9 677.8L621.4 677.8L621.9 677.7L622.4 677.7L622.9 677.7L623.4 677.6L623.9 677.6L624.4 677.5L624.9 677.5L625.4 677.5L625.9 677.4L626.4 677.4L626.9 677.4L627.4 677.3L627.9 677.3L628.4 677.3L628.9 677.3L629.1 677.3L629.4 677.3L629.9 677.3L630.4 677.4L630.9 677.4L631.4 677.5L631.9 677.6L632.4 677.7L632.9 677.8L633.4 677.9L633.9 678.0L634.4 678.1L634.9 678.2L635.4 678.3L635.9 678.4L636.4 678.5L636.9 678.6L637.4 678.7L637.9 678.8L638.4 678.9L638.9 678.9L639.4 679.0L639.9 679.0L640.3 679.0L640.4 679.0L640.9 679.0L641.4 679.0L641.9 678.9L642.4 678.9L642.9 678.8L643.4 678.8L643.9 678.7L644.4 678.7L644.9 678.6L645.4 678.5L645.9 678.4L646.4 678.4L646.9 678.3L647.4 678.2L647.9 678.2L648.4 678.1L648.9 678.0L649.4 678.0L649.9 678.0L650.4 677.9L650.9 677.9L651.4 677.9L651.9 677.9L652.4 678.0L652.9 678.1L653.4 678.3L653.9 678.5L654.4 678.7L654.9 678.9L655.4 679.0L655.9 679.2L656.4 679.3L656.9 679.3L657.0 679.3L657.4 679.3L657.9 679.3L658.4 679.3L658.9 679.3L659.4 679.2L659.9 679.2L660.4 679.2L660.9 679.2L661.4 679.1L661.9 679.1L662.4 679.0L662.9 679.0L663.4 678.9L663.9 678.9L664.4 678.8L664.9 678.8L665.3 678.7L665.4 678.7L665.9 678.6L666.4 678.4L666.9 678.2L667.4 677.9L667.9 677.6L668.4 677.3L668.9 677.1L669.4 676.9L669.9 676.7L670.4 676.5L670.9 676.5L671.4 676.5L671.9 676.6L672.4 676.6L672.9 676.7L673.4 676.9L673.9 677.0L674.4 677.2L674.9 677.3L675.4 677.5L675.9 677.7L676.4 677.9L676.9 678.1L677.4 678.3L677.9 678.4L678.4 678.6L678.9 678.8L679.4 678.9L679.9 679.0L680.4 679.1L680.9 679.2L681.4 679.3L681.9 679.3L682.0 679.3L682.4 679.3L682.9 679.3L683.4 679.3L683.9 679.2L684.4 679.2L684.9 679.2L685.4 679.1L685.9 679.1L686.4 679.0L686.9 678.9L687.4 678.9L687.9 678.8L688.4 678.7L688.9 678.7L689.4 678.6L689.9 678.5L690.4 678.4L690.9 678.3L691.4 678.2L691.9 678.1L692.4 678.0L692.9 678.0L693.2 677.9L693.4 677.9L693.9 677.8L694.4 677.7L694.9 677.5L695.4 677.4L695.9 677.3L696.4 677.1L696.9 677.0L697.4 676.8L697.9 676.7L698.4 676.5L698.9 676.3L699.4 676.2L699.9 676.0L700.4 675.8L700.9 675.7L701.4 675.5L701.9 675.3L702.4 675.1L702.9 675.0L703.4 674.8L703.9 674.6L704.3 674.5L704.4 674.5L704.9 674.3L705.4 674.1L705.9 674.0L706.4 673.8L706.9 673.6L707.4 673.4L707.9 673.2L708.4 673.0L708.9 672.9L709.4 672.7L709.9 672.5L710.4 672.4L710.9 672.2L711.4 672.1L711.9 672.0L712.4 671.8L712.6 671.8L712.9 671.7L713.4 671.6L713.9 671.6L714.4 671.5L714.9 671.4L715.4 671.3L715.9 671.3L716.4 671.2L716.9 671.1L717.4 671.1L717.9 671.0L718.4 670.9L718.9 670.9L719.4 670.8L719.9 670.7L720.4 670.7L720.9 670.6L721.0 670.6L721.4 670.5L721.9 670.5L722.4 670.4L722.9 670.3L723.4 670.2L723.9 670.1L724.4 670.0L724.9 669.9L725.4 669.9L725.9 669.8L726.4 669.7L726.9 669.7L727.4 669.6L727.9 669.6L728.4 669.5L728.9 669.5L729.3 669.5L729.4 669.5L729.9 669.5L730.4 669.5L730.9 669.5L731.4 669.5L731.9 669.5L732.4 669.5L732.9 669.5L733.4 669.5L733.9 669.5L734.4 669.5L734.9 669.5L735.4 669.5L735.9 669.5L736.3 669.5L736.4 669.5L736.9 669.6L737.4 669.9L737.9 670.2L738.4 670.6L738.9 671.1L739.4 671.4L739.9 671.7L740.4 671.8L740.5 671.8L740.9 671.8L741.4 671.8L741.9 671.8L742.4 671.8L742.9 671.8L743.4 671.8L743.9 671.8L744.4 671.8L744.9 671.8L745.4 671.8L745.9 671.8L746.0 671.8L746.4 671.8L746.9 672.0L747.4 672.2L747.9 672.5L748.4 672.9L748.9 673.2L749.4 673.6L749.9 673.9L750.4 674.2L750.9 674.4L751.4 674.5L751.6 674.5L751.9 674.5L752.4 674.4L752.9 674.2L753.4 673.9L753.9 673.7L754.4 673.4L754.9 673.1L755.4 672.9L755.9 672.7L756.4 672.6L756.6 672.6L756.9 672.7L757.4 673.0L757.9 673.6L758.4 674.3L758.9 674.9L759.4 675.5L759.9 675.9L760.0 675.9L760.4 676.0L760.9 676.2L761.4 676.3L761.9 676.4L762.4 676.5L762.9 676.6L763.4 676.7L763.9 676.7L764.4 676.8L764.9 676.8L765.4 676.8L765.5 676.8L765.9 676.7L766.4 676.4L766.9 675.9L767.4 675.5L767.9 675.2L768.3 675.1L768.4 675.1L768.9 675.7L769.4 676.9L769.9 678.4L770.4 679.9L770.9 681.3L771.4 682.1L771.7 682.3L771.9 682.2L772.4 681.7L772.9 680.6L773.4 679.4L773.9 678.1L774.4 676.9L774.9 676.1L775.3 675.9L775.4 675.9L775.9 676.9L776.4 678.5L776.9 679.8L777.2 680.1L777.4 680.1L777.9 679.9L778.4 679.6L778.9 679.1L779.4 678.6L779.9 678.1L780.4 677.6L780.9 677.1L781.4 676.7L781.9 676.5L782.2 676.5L782.4 676.5L782.9 676.6L783.4 676.7L783.9 676.9L784.4 677.2L784.9 677.5L785.4 677.8L785.9 678.1L786.4 678.4L786.9 678.7L787.4 679.0L787.9 679.2L788.4 679.4L788.9 679.5L789.2 679.5L789.4 679.4L789.9 678.8L790.4 677.8L790.9 676.6L791.4 675.6L791.9 675.1L792.0 675.1L792.4 675.2L792.9 675.4L793.4 675.8L793.9 676.3L794.4 676.7L794.9 677.1L795.4 677.3L795.6 677.3L795.9 677.3L796.4 677.0L796.9 676.5L797.4 675.9L797.9 675.1L798.4 674.3L798.9 673.4L799.4 672.6L799.9 671.8L800.4 671.2L800.9 670.7L801.4 670.4L801.7 670.4L801.9 670.4L802.4 670.6L802.9 670.8L803.4 671.2L803.9 671.6L804.4 672.0L804.9 672.3L805.4 672.5L805.9 672.6L806.4 672.6L806.9 672.6L807.4 672.5L807.9 672.5L808.4 672.4L808.9 672.4L809.4 672.3L809.9 672.3L810.1 672.3L810.4 672.3L810.9 672.5L811.4 672.8L811.9 673.3L812.4 673.8L812.9 674.4L813.4 675.1L813.9 675.7L814.4 676.3L814.9 676.9L815.4 677.4L815.9 677.8L816.4 678.1L816.9 678.2L817.0 678.2L817.4 678.2L817.9 678.2L818.4 678.1L818.9 678.1L819.4 678.0L819.9 678.0L820.4 677.9L820.9 677.8L821.4 677.6L821.9 677.5L822.4 677.4L822.6 677.3L822.9 677.1L823.4 676.2L823.9 674.8L824.4 673.1L824.9 671.3L825.4 669.6L825.9 668.2L826.4 667.3L826.8 667.0L826.9 667.0L827.4 667.5L827.9 668.6L828.4 670.0L828.9 671.6L829.4 673.2L829.9 674.6L830.4 675.5L830.9 675.9L831.4 675.8L831.9 675.6L832.4 675.3L832.9 674.9L833.4 674.4L833.9 673.9L834.4 673.3L834.6 673.1L834.9 672.7L835.4 671.7L835.9 670.5L836.4 669.1L836.9 667.8L837.4 666.6L837.9 665.8L838.4 665.4L838.5 665.4L838.9 665.7L839.4 666.6L839.9 668.1L840.4 669.9L840.9 671.9L841.4 673.7L841.9 675.3L842.4 676.4L842.9 676.8L843.4 676.7L843.9 676.4L844.4 676.0L844.9 675.4L845.4 674.8L845.9 674.1L846.4 673.5L846.9 672.9L847.4 672.5L847.6 672.3L847.9 672.1L848.4 671.7L848.9 671.3L849.4 670.9L849.9 670.5L850.4 670.1L850.9 669.8L851.4 669.5L851.9 669.3L852.4 669.1L852.9 669.0L853.2 669.0L853.4 669.1L853.9 670.0L854.4 671.7L854.9 673.8L855.4 676.0L855.9 677.9L856.4 679.1L856.8 679.5L856.9 679.5L857.4 678.8L857.9 677.5L858.4 675.7L858.9 673.9L859.4 672.4L859.9 671.4L860.2 671.2L860.4 671.2L860.9 671.6L861.4 672.2L861.9 673.0L862.4 673.9L862.9 675.0L863.4 675.9L863.9 676.8L864.4 677.4L864.9 677.8L865.2 677.9L865.4 677.9L865.9 677.8L866.4 677.6L866.9 677.3L867.4 676.9L867.9 676.5L868.4 676.1L868.9 675.7L869.4 675.3L869.9 675.0L870.4 674.7L870.9 674.5L871.3 674.5L871.4 674.5L871.9 674.6L872.4 674.8L872.9 675.2L873.4 675.6L873.9 676.0L874.4 676.5L874.9 676.9L875.4 677.3L875.9 677.6L876.4 677.8L876.9 677.9L877.4 677.9L877.9 677.7L878.4 677.6L878.9 677.4L879.4 677.2L879.9 677.0L880.4 676.9L880.9 676.8L881.0 676.8L881.4 676.8L881.9 676.8L882.4 676.8L882.9 676.8L883.4 676.8L883.9 676.8L884.4 676.8L884.9 676.8L885.2 676.8L885.4 676.8L885.9 676.9L886.4 677.2L886.9 677.5L887.4 677.9L887.9 678.4L888.4 678.8L888.9 679.2L889.4 679.6L889.9 679.9L890.4 680.1L890.8 680.1L890.9 680.1L891.4 679.9L891.9 679.6L892.4 679.2L892.9 678.8L893.4 678.4L893.9 678.2L894.1 678.2L894.4 678.2L894.9 678.3L895.4 678.5L895.9 678.8L896.4 679.0L896.9 679.3L897.4 679.6L897.9 679.8L898.4 680.0L898.9 680.1L899.1 680.1L899.4 680.1L899.9 680.1L900.4 680.0L900.9 679.9L901.4 679.8L901.9 679.7L902.4 679.6L902.9 679.5L903.4 679.4L903.9 679.3L904.4 679.1L904.9 679.0L905.4 678.9L905.9 678.8L906.4 678.8L906.9 678.7L907.4 678.7L907.5 678.7L907.9 678.7L908.4 678.8L908.9 678.9L909.4 679.0L909.9 679.1L910.4 679.3L910.9 679.4L911.4 679.5L911.9 679.6L912.3 679.6L912.4 679.6L912.9 679.6L913.4 679.6L913.9 679.6L914.4 679.6L914.9 679.6L915.4 679.5L915.9 679.5L916.4 679.5L916.9 679.5L917.4 679.4L917.9 679.4L918.4 679.3L918.9 679.3L919.4 679.2L919.9 679.2L920.4 679.1L920.9 679.0L921.4 679.0L921.9 678.9L922.4 678.8L922.9 678.7L923.4 678.6L923.9 678.5L924.4 678.4L924.5 678.4L924.9 678.2L925.4 677.9L925.9 677.3L926.4 676.5L926.9 675.5L927.4 674.3L927.9 673.0L928.4 671.5L928.9 669.8L929.4 666.8L929.9 661.7L930.4 655.1L930.9 647.7L931.4 640.1L931.9 633.0L932.4 625.9L932.9 618.0L933.4 609.7L933.9 601.2L934.4 592.7L934.9 584.4L935.4 576.6L935.9 569.5L936.4 563.4L936.8 559.4L936.9 558.5L937.4 554.5L937.9 550.9L938.4 547.8L938.9 544.8L939.4 541.9L939.9 538.9L940.4 535.6L940.5 534.9L940.9 532.1L941.4 528.6L941.9 525.1L942.4 521.4L942.9 517.5L943.4 513.2L943.7 510.4L943.9 508.3L944.4 502.2L944.9 495.1L945.4 487.8L945.9 481.0L946.4 475.4L946.6 473.6L946.9 471.2L947.4 467.1L947.9 463.4L948.4 460.7L948.9 459.4L949.0 459.4L949.4 459.9L949.9 461.7L950.4 464.7L950.9 468.4L951.4 472.7L951.5 473.6L951.9 478.7L952.4 488.6L952.9 500.8L953.4 513.6L953.9 525.4L954.0 527.5L954.4 535.7L954.9 546.2L955.4 556.7L955.9 566.8L956.4 576.5L956.9 585.4L957.4 593.4L957.6 596.2L957.9 600.3L958.4 606.8L958.9 612.9L959.4 618.7L959.9 623.9L960.4 628.6L960.9 632.7L961.3 635.5L961.4 636.1L961.9 639.2L962.4 642.1L962.9 644.7L963.4 647.2L963.9 649.4L964.4 651.3L964.9 653.0L965.4 654.4L965.7 655.1L965.9 655.5L966.4 656.5L966.9 657.3L967.4 658.0L967.9 658.7L968.4 659.3L968.9 659.9L969.4 660.5L969.9 661.0L970.4 661.6L970.9 662.2L971.1 662.4L971.4 662.8L971.9 663.4L972.4 664.0L972.9 664.6L973.4 665.3L973.9 665.9L974.4 666.5L974.9 667.1L975.4 667.6L975.9 668.2L976.4 668.8L976.9 669.3L977.4 669.9L977.9 670.4L978.4 670.9L978.5 671.0L978.9 671.4L979.4 671.9L979.9 672.5L980.4 673.1L980.9 673.6L981.4 674.2L981.9 674.8L982.4 675.3L982.9 675.9L983.4 676.4L983.9 676.8L984.4 677.2L984.9 677.6L985.4 677.9L985.9 678.2L986.4 678.3L986.9 678.4L987.1 678.4L987.4 678.4L987.9 678.3L988.4 678.1L988.9 677.8L989.4 677.4L989.9 677.0L990.4 676.4L990.8 675.9L990.9 675.7L991.4 673.5L991.9 669.5L992.4 664.4L992.9 658.6L993.2 655.1L993.4 652.5L993.9 643.8L994.4 633.9L994.9 624.9L995.2 620.8L995.4 618.5L995.9 612.8L996.4 608.3L996.9 606.5L997.4 606.7L997.9 607.2L998.4 608.1L998.6 608.5L998.9 610.7L999.4 619.5L999.9 631.4L1000.4 642.2L1000.6 645.3L1000.9 649.3L1001.4 655.6L1001.9 661.4L1002.4 666.1L1002.9 669.4L1003.0 669.8L1003.4 671.4L1003.9 673.2L1004.4 674.9L1004.9 676.3L1005.4 677.5L1005.9 678.4L1006.4 678.9L1006.9 679.1L1007.4 678.5L1007.9 677.1L1008.4 675.1L1008.9 673.1L1009.1 672.3L1009.4 671.1L1009.9 668.5L1010.4 665.7L1010.9 662.8L1011.4 660.3L1011.9 658.4L1012.3 657.5L1012.4 657.4L1012.9 656.8L1013.4 656.3L1013.9 655.9L1014.4 655.7L1014.8 655.6L1014.9 655.6L1015.4 655.8L1015.9 656.3L1016.4 657.0L1016.9 657.8L1017.4 658.6L1017.9 659.3L1018.4 659.8L1018.9 660.0L1019.0 660.0L1019.4 659.6L1019.9 658.3L1020.4 656.6L1020.9 655.2L1021.4 654.6L1021.9 654.8L1022.4 655.3L1022.9 656.0L1023.1 656.3L1023.4 657.1L1023.9 659.6L1024.4 663.0L1024.9 666.8L1025.4 670.2L1025.9 672.6L1026.3 673.5L1026.4 673.6L1026.9 673.8L1027.4 674.1L1027.9 674.3L1028.4 674.5L1028.9 674.6L1029.4 674.7L1029.9 674.7L1030.0 674.7L1030.4 674.6L1030.9 674.4L1031.4 674.1L1031.9 673.6L1032.4 673.1L1032.9 672.6L1033.4 672.1L1033.7 671.8L1033.9 671.6L1034.4 671.2L1034.9 670.7L1035.4 670.2L1035.9 669.7L1036.4 669.1L1036.9 668.3L1037.4 667.4L1037.9 665.6L1038.4 662.5L1038.9 658.6L1039.4 654.4L1039.9 650.5L1040.4 647.4L1040.9 645.5L1041.0 645.3L1041.4 644.7L1041.9 644.1L1042.4 643.6L1042.9 643.1L1043.4 642.7L1043.9 642.5L1044.4 642.3L1044.7 642.3L1044.9 642.3L1045.4 642.6L1045.9 643.1L1046.4 643.8L1046.9 644.7L1047.2 645.3L1047.4 645.9L1047.9 648.7L1048.4 652.9L1048.9 657.7L1049.4 662.4L1049.9 666.3L1050.1 667.4L1050.4 668.9L1050.9 671.5L1051.4 673.9L1051.9 676.1L1052.4 677.7L1052.9 678.8L1053.3 679.1L1053.4 679.1L1053.9 679.0L1054.4 678.9L1054.9 678.6L1055.3 678.4L1055.4 678.3L1055.9 677.4L1056.4 675.9L1056.9 673.8L1057.4 671.6L1057.9 669.4L1058.4 667.3L1058.9 665.8L1059.4 664.9L1059.9 664.5L1060.4 664.2L1060.9 664.0L1061.4 663.9L1061.9 663.7L1062.4 663.4L1062.9 663.1L1063.1 662.9L1063.4 662.4L1063.9 660.8L1064.4 658.3L1064.9 655.3L1065.4 652.1L1065.9 648.8L1066.4 645.7L1066.9 643.1L1067.4 641.3L1067.9 640.4L1068.0 640.4L1068.4 640.5L1068.9 640.8L1069.4 641.3L1069.9 641.9L1070.4 642.7L1070.9 643.7L1071.4 644.7L1071.7 645.3L1071.9 645.8L1072.4 647.6L1072.9 650.1L1073.4 652.9L1073.9 655.9L1074.4 658.9L1074.6 660.0L1074.9 661.8L1075.4 665.4L1075.9 669.4L1076.4 673.2L1076.9 676.4L1077.4 678.5L1077.8 679.1L1077.9 679.1L1078.4 677.5L1078.9 674.4L1079.4 670.3L1079.9 665.8L1080.4 661.7L1080.9 658.6L1081.4 657.0L1081.5 657.0L1081.9 657.0L1082.4 657.1L1082.9 657.3L1083.4 657.5L1083.5 657.5L1083.9 658.7L1084.4 662.2L1084.9 667.0L1085.4 671.9L1085.9 675.7L1086.4 677.2L1086.9 676.6L1087.4 675.0L1087.9 672.7L1088.4 669.8L1088.9 664.0L1089.4 653.9L1089.9 641.3L1090.4 628.1L1090.9 616.1L1091.3 608.5L1091.4 606.9L1091.9 599.2L1092.4 591.6L1092.9 584.3L1093.4 577.4L1093.9 570.9L1094.4 565.0L1094.9 559.7L1095.4 555.1L1095.9 551.4L1096.2 549.6L1096.4 548.6L1096.9 546.3L1097.4 544.4L1097.9 542.8L1098.4 541.3L1098.9 540.0L1099.4 538.6L1099.9 537.1L1100.4 535.4L1100.9 533.3L1101.1 532.4L1101.4 530.9L1101.9 527.9L1102.4 524.6L1102.9 520.9L1103.4 516.9L1103.9 512.6L1104.4 508.2L1104.9 503.6L1105.4 498.9L1105.9 494.2L1106.0 493.2L1106.4 488.9L1106.9 482.4L1107.4 475.0L1107.9 467.2L1108.4 459.3L1108.9 452.0L1109.4 445.5L1109.9 440.3L1110.4 436.8L1110.9 435.6L1111.4 438.6L1111.9 446.6L1112.4 458.0L1112.9 471.4L1113.4 485.3L1113.9 498.1L1114.4 511.9L1114.9 528.7L1115.4 546.9L1115.9 565.1L1116.4 581.5L1116.9 594.7L1117.4 603.2L1117.8 605.5L1117.9 605.4L1118.4 602.6L1118.9 596.2L1119.4 587.1L1119.9 575.9L1120.4 563.3L1120.9 550.2L1121.4 537.1L1121.9 524.9L1122.0 522.6L1122.4 512.5L1122.9 497.9L1123.4 483.1L1123.9 470.2L1124.4 461.3L1124.9 455.3L1125.4 449.8L1125.9 445.3L1126.4 442.3L1126.9 441.2L1127.4 445.0L1127.9 455.1L1128.4 469.9L1128.9 487.7L1129.4 506.7L1129.9 525.3L1130.4 541.6L1130.6 547.2L1130.9 555.1L1131.4 568.6L1131.9 582.1L1132.4 595.2L1132.9 607.6L1133.4 618.7L1133.9 628.2L1134.2 633.0L1134.4 635.9L1134.9 643.4L1135.4 650.6L1135.9 657.5L1136.4 663.7L1136.9 669.0L1137.4 673.1L1137.9 675.8L1138.4 676.7L1138.9 676.0L1139.4 674.2L1139.9 671.3L1140.4 667.7L1140.9 663.4L1141.4 658.7L1141.9 653.9L1142.4 649.0L1142.8 645.3L1142.9 644.4L1143.4 639.1L1143.9 633.1L1144.4 626.8L1144.9 620.8L1145.4 615.1L1145.9 609.3L1146.4 603.6L1146.9 597.9L1147.4 592.3L1147.9 586.6L1148.4 581.0L1148.9 575.3L1149.4 569.7L1149.9 564.1L1150.4 558.5L1150.9 552.9L1151.4 547.4L1151.9 541.8L1152.3 537.4L1152.4 536.3L1152.9 530.5L1153.4 524.6L1153.9 518.6L1154.4 512.8L1154.9 507.4L1155.4 502.4L1155.9 498.1L1156.4 494.2L1156.9 490.4L1157.4 486.9L1157.9 483.7L1158.4 481.1L1158.9 479.1L1159.1 478.5L1159.4 477.7L1159.9 476.6L1160.4 475.7L1160.8 475.5L1160.9 475.5L1161.4 475.5L1161.9 475.5L1162.4 475.6L1162.9 475.7L1163.4 475.7L1163.9 475.8L1164.4 476.0L1164.5 476.0L1164.9 476.3L1165.4 477.3L1165.9 478.7L1166.4 480.5L1166.5 480.9L1166.9 483.3L1167.4 488.2L1167.9 494.7L1168.4 502.1L1168.9 510.0L1169.4 517.7L1169.9 525.6L1170.4 534.5L1170.9 543.9L1171.4 553.5L1171.9 563.1L1172.4 572.4L1172.9 580.9L1173.1 584.0L1173.4 588.5L1173.9 595.6L1174.4 602.5L1174.9 609.0L1175.4 615.4L1175.9 621.7L1176.4 627.9L1176.8 633.0L1176.9 634.3L1177.4 641.3L1177.9 648.9L1178.4 656.3L1178.9 663.0L1179.4 668.4L1179.9 671.9L1180.0 672.3L1180.4 673.7L1180.9 675.2L1181.4 676.4L1181.9 677.1L1182.2 677.2L1182.4 677.0L1182.9 675.2L1183.4 672.0L1183.9 668.3L1184.2 666.1L1184.4 664.6L1184.9 660.0L1185.4 654.6L1185.9 648.7L1186.4 643.0L1186.9 637.9L1187.4 633.9L1187.8 631.8L1187.9 631.4L1188.4 629.9L1188.9 628.8L1189.4 627.9L1189.9 627.1L1190.4 626.2L1190.9 625.1L1191.4 623.6L1191.5 623.2L1191.9 621.3L1192.4 617.9L1192.9 613.6L1193.4 608.6L1193.9 603.2L1194.4 597.4L1194.5 596.2L1194.9 590.4L1195.4 581.1L1195.9 571.3L1196.4 562.6L1196.9 557.0L1197.4 553.7L1197.9 551.5L1198.1 551.3L1198.4 552.0L1198.9 556.0L1199.4 562.1L1199.9 569.0L1200.1 571.7L1200.4 576.2L1200.9 585.5L1201.4 595.9L1201.9 606.0L1202.4 614.4L1202.5 615.8L1202.9 620.9L1203.4 627.0L1203.9 632.5L1204.4 636.9L1204.9 640.0L1205.0 640.4L1205.4 641.7L1205.9 642.9L1206.4 643.8L1206.9 644.6L1207.4 645.5L1207.9 646.7L1208.2 647.7L1208.4 648.6L1208.9 652.0L1209.4 656.4L1209.9 661.0L1210.4 664.9L1210.6 666.1L1210.9 667.8L1211.4 670.4L1211.9 672.1L1212.1 672.3L1212.4 670.4L1212.9 661.3L1213.4 649.5L1213.6 645.3L1213.9 639.0L1214.4 626.8L1214.9 614.3L1215.4 603.1L1215.9 594.9L1216.0 593.8L1216.4 590.0L1216.9 586.0L1217.4 582.8L1217.9 580.6L1218.0 580.3L1218.4 579.1L1218.9 577.8L1219.4 576.7L1219.9 576.0L1220.4 575.6L1220.5 575.6L1220.9 576.1L1221.4 578.0L1221.9 580.8L1222.2 582.7L1222.4 584.3L1222.9 590.7L1223.4 599.4L1223.9 608.9L1224.4 617.8L1224.6 620.8L1224.9 625.2L1225.4 633.1L1225.9 640.8L1226.4 647.3L1226.9 651.6L1227.1 652.6L1227.4 653.5L1227.9 654.7L1228.4 655.6L1228.9 656.3L1229.4 657.0L1229.9 657.8L1230.3 658.8L1230.4 659.1L1230.9 661.1L1231.4 663.7L1231.9 666.7L1232.4 669.6L1232.9 672.2L1233.4 674.0L1233.7 674.7L1233.9 675.0L1234.4 675.7L1234.9 676.3L1235.4 676.9L1235.9 677.4L1236.4 677.8L1236.9 678.1L1237.4 678.3L1237.9 678.4L1238.1 678.4L1238.4 678.4L1238.9 678.3L1239.4 678.3L1239.9 678.1L1240.4 677.9L1240.9 677.7L1241.4 677.4L1241.9 677.1L1242.4 676.8L1242.5 676.7L1242.9 676.0L1243.4 674.2L1243.9 671.7L1244.4 668.7L1244.9 665.5L1245.0 664.9L1245.4 661.7L1245.9 656.1L1246.4 649.9L1246.9 643.9L1247.4 639.2L1247.9 636.7L1248.4 635.7L1248.9 634.9L1249.4 634.4L1249.9 634.2L1250.4 634.6L1250.9 635.6L1251.4 637.0L1251.9 638.6L1252.4 640.3L1252.8 641.6L1252.9 641.9L1253.4 643.6L1253.9 645.5L1254.4 647.4L1254.9 649.4L1255.4 651.3L1255.8 652.6L1255.9 652.9L1256.4 654.8L1256.9 656.6L1257.4 657.8L1257.7 658.0L1257.9 658.0L1258.4 657.6L1258.9 656.8L1259.4 655.8L1259.7 655.1L1259.9 654.5L1260.4 651.7L1260.9 647.5L1261.4 642.3L1261.9 636.4L1262.4 630.1L1262.9 624.0L1263.4 618.3L1263.9 613.4L1264.4 608.6L1264.9 603.5L1265.4 598.5L1265.9 594.3L1266.4 591.6L1266.8 590.8L1266.9 590.8L1267.4 590.8L1267.9 590.8L1268.4 590.8L1268.5 590.8L1268.9 592.0L1269.4 596.4L1269.9 602.9L1270.4 610.2L1270.9 617.2L1271.2 620.8L1271.4 623.0L1271.9 629.3L1272.4 636.0L1272.9 642.5L1273.4 648.1L1273.9 652.1L1274.4 653.9L1274.9 654.3L1275.4 654.6L1275.9 654.8L1276.4 655.0L1276.9 655.1L1277.4 655.2L1277.9 655.3L1278.4 655.5L1278.9 655.7L1279.4 656.0L1279.8 656.3L1279.9 656.4L1280.4 657.4L1280.9 659.0L1281.4 661.2L1281.9 663.8L1282.3 666.1L1282.4 666.8L1282.9 672.8L1283.4 678.7L1283.7 680.1L1283.9 679.9L1284.4 677.5L1284.9 673.2L1285.2 669.8L1285.4 665.9L1285.9 646.0L1286.4 618.1L1286.7 601.1L1286.9 589.2L1287.4 553.1L1287.9 515.6L1288.4 485.8L1288.9 463.2L1289.4 443.5L1289.9 430.0L1290.1 427.0L1290.4 424.0L1290.9 420.2L1291.3 419.1L1291.4 419.4L1291.9 428.1L1292.4 443.0L1292.6 449.0L1292.9 458.8L1293.4 478.9L1293.9 500.4L1294.4 519.4L1294.5 522.6L1294.9 534.4L1295.4 548.3L1295.9 561.0L1296.4 572.3L1296.9 582.2L1297.0 584.0L1297.4 590.9L1297.9 599.2L1298.4 606.9L1298.9 614.0L1299.4 620.4L1299.9 626.0L1300.4 630.7L1300.7 633.0L1300.9 634.4L1301.4 637.6L1301.9 640.6L1302.4 643.3L1302.9 645.7L1303.4 647.8L1303.9 649.7L1304.4 651.4L1304.8 652.6L1304.9 652.9L1305.4 654.2L1305.9 655.5L1306.4 656.6L1306.9 657.7L1307.4 658.6L1307.9 659.6L1308.4 660.4L1308.9 661.3L1309.4 662.0L1309.9 662.8L1310.4 663.6L1310.5 663.7L1310.9 664.3L1311.4 665.0L1311.9 665.6L1312.4 666.3L1312.9 666.9L1313.4 667.5L1313.9 668.1L1314.4 668.6L1314.9 669.2L1315.4 669.7L1315.9 670.2L1316.4 670.8L1316.6 671.0L1316.9 671.3L1317.4 671.9L1317.9 672.5L1318.4 673.2L1318.9 673.8L1319.4 674.3L1319.9 674.9L1320.4 675.3L1320.9 675.6L1321.4 675.9L1321.5 675.9L1321.9 676.0L1322.4 676.1L1322.9 676.2L1323.4 676.2L1323.9 676.3L1324.4 676.4L1324.9 676.4L1325.4 676.5L1325.9 676.6L1326.4 676.7L1326.9 676.9L1327.4 677.3L1327.9 677.7L1328.4 678.2L1328.9 678.6L1329.4 678.9L1329.9 679.1L1330.1 679.1L1330.4 679.1L1330.9 679.1L1331.4 679.0L1331.9 678.9L1332.4 678.8L1332.9 678.7L1333.4 678.5L1333.8 678.4L1333.9 678.3L1334.4 677.6L1334.9 676.1L1335.4 674.0L1335.9 671.5L1336.2 669.8L1336.4 668.3L1336.9 661.7L1337.4 652.4L1337.9 641.5L1338.4 630.5L1338.9 620.6L1339.2 615.8L1339.4 612.9L1339.9 605.8L1340.4 600.1L1340.6 598.7L1340.9 597.0L1341.4 594.7L1341.9 593.8L1342.4 595.9L1342.9 600.9L1343.4 606.6L1343.6 608.5L1343.9 611.2L1344.4 615.8L1344.9 620.5L1345.4 625.2L1345.9 629.9L1346.4 634.6L1346.9 639.2L1347.3 642.8L1347.4 643.7L1347.9 648.3L1348.4 652.9L1348.9 657.5L1349.4 661.9L1349.9 665.8L1350.4 669.2L1350.5 669.8L1350.9 672.2L1351.4 675.2L1351.9 677.5L1352.4 678.4L1352.9 678.3L1353.4 678.2L1353.9 677.9L1354.4 677.6L1354.9 677.3L1355.4 677.0L1355.8 676.7L1355.9 676.6L1356.4 676.2L1356.9 675.7L1357.4 675.0L1357.9 674.4L1358.4 673.7L1358.9 673.1L1359.4 672.6L1359.9 672.1L1360.4 671.9L1360.8 671.8L1360.9 671.8L1361.4 672.0L1361.9 672.2L1362.4 672.5L1362.9 672.8L1363.2 672.8L1363.4 672.8L1363.9 672.5L1364.4 672.1L1364.9 671.7L1365.4 671.4L1365.7 671.3L1365.9 671.3L1366.4 671.8L1366.9 672.7L1367.4 673.8L1367.9 675.0L1368.4 676.1L1368.9 677.1L1369.4 677.7L1369.8 677.9L1369.9 677.9L1370.4 677.9L1370.9 677.9L1371.4 677.9L1371.9 677.9L1372.4 677.9L1372.9 677.9L1373.4 677.9L1373.9 677.9L1374.4 677.9L1374.9 677.9L1375.0 677.9L1375.4 677.8L1375.9 677.4L1376.4 676.8L1376.9 676.1L1377.4 675.4L1377.9 674.7L1378.4 674.0L1378.9 673.3L1379.4 672.6L1379.9 671.8L1380.4 671.0"/>
<path class="curve" stroke="#515151" stroke-width="1" d="M133.4 966.8L133.9 966.9L134.4 967.0L134.9 967.0L135.4 967.1L135.9 967.1L136.4 967.2L136.9 967.2L137.4 967.2L137.9 967.3L138.4 967.3L138.9 967.3L139.4 967.3L139.9 967.3L140.4 967.3L140.9 967.3L141.4 967.3L141.7 967.3L141.9 967.3L142.4 967.2L142.9 967.1L143.4 966.9L143.9 966.7L144.4 966.4L144.9 966.1L145.4 965.9L145.9 965.7L146.4 965.5L146.9 965.4L147.3 965.4L147.4 965.4L147.9 965.5L148.4 965.6L148.9 965.8L149.4 966.0L149.9 966.3L150.4 966.5L150.9 966.8L151.4 967.0L151.9 967.2L152.4 967.3L152.8 967.3L152.9 967.3L153.4 967.2L153.9 967.0L154.4 966.7L154.9 966.4L155.4 966.0L155.9 965.7L156.4 965.3L156.9 965.0L157.4 964.7L157.9 964.6L158.4 964.5L158.9 964.6L159.4 964.8L159.9 965.2L160.4 965.6L160.9 966.0L161.4 966.3L161.9 966.6L162.4 966.8L162.6 966.8L162.9 966.6L163.4 965.8L163.9 964.6L164.4 963.3L164.9 962.2L165.4 961.8L165.9 962.3L166.4 963.5L166.9 965.0L167.4 966.4L167.9 967.2L168.1 967.3L168.4 967.2L168.9 966.9L169.4 966.3L169.9 965.6L170.4 964.9L170.9 964.2L171.4 963.6L171.9 963.2L172.3 963.1L172.4 963.1L172.9 963.6L173.4 964.5L173.9 965.4L174.4 965.9L174.5 965.9L174.9 965.6L175.4 964.6L175.9 963.3L176.4 962.0L176.9 961.3L177.1 961.2L177.4 961.4L177.9 962.4L178.4 963.8L178.9 965.3L179.4 966.5L179.8 966.8L179.9 966.8L180.4 965.4L180.9 963.2L181.4 961.8L181.5 961.8L181.9 962.3L182.4 964.1L182.9 966.3L183.4 968.4L183.9 969.5L184.0 969.5L184.4 969.0L184.9 967.5L185.4 965.4L185.9 963.2L186.4 961.7L186.8 961.2L186.9 961.2L187.4 961.8L187.9 963.0L188.4 964.4L188.9 965.8L189.4 966.9L189.9 967.3L190.4 967.0L190.9 966.2L191.4 965.1L191.9 964.0L192.4 963.0L192.9 962.4L193.2 962.3L193.4 962.3L193.9 962.9L194.4 963.8L194.9 964.9L195.4 966.0L195.9 967.0L196.4 967.7L196.8 967.9L196.9 967.9L197.4 967.6L197.9 966.9L198.4 966.1L198.9 965.3L199.4 964.5L199.9 964.1L200.2 964.0L200.4 964.0L200.9 964.2L201.4 964.6L201.9 965.0L202.4 965.6L202.9 966.0L203.4 966.5L203.9 966.7L204.3 966.8L204.4 966.8L204.9 966.6L205.4 966.2L205.9 965.6L206.4 964.9L206.9 964.3L207.4 963.7L207.9 963.3L208.4 963.1L208.5 963.1L208.9 963.2L209.4 963.5L209.9 963.9L210.4 964.3L210.9 964.7L211.4 965.0L211.8 965.1L211.9 965.1L212.4 964.9L212.9 964.4L213.4 963.8L213.9 963.1L214.4 962.5L214.9 962.0L215.4 961.8L215.5 961.8L215.9 961.9L216.4 962.3L216.9 962.9L217.4 963.5L217.9 963.9L218.3 964.0L218.4 964.0L218.9 963.7L219.4 963.2L219.9 962.5L220.4 961.8L220.9 961.1L221.4 960.6L221.9 960.4L222.4 960.9L222.9 961.9L223.4 962.8L223.8 963.1L223.9 963.0L224.4 960.1L224.9 956.5L225.2 955.6L225.4 955.9L225.9 958.9L226.4 962.9L226.9 965.1L227.4 965.6L227.9 966.0L228.4 966.3L228.9 966.5L229.4 966.7L229.9 966.8L230.2 966.8L230.4 966.8L230.9 966.4L231.4 965.9L231.9 965.3L232.4 964.8L232.9 964.5L233.0 964.5L233.4 964.9L233.9 966.2L234.4 967.8L234.9 969.3L235.4 970.1L235.5 970.1L235.9 969.8L236.4 969.0L236.9 967.8L237.4 966.5L237.9 965.7L238.3 965.4L238.4 965.4L238.9 966.1L239.4 967.5L239.9 968.8L240.4 969.5L240.5 969.5L240.9 969.2L241.4 968.2L241.9 966.8L242.4 965.3L242.9 964.3L243.3 964.0L243.4 964.0L243.9 965.4L244.4 967.8L244.9 969.7L245.2 970.1L245.4 969.9L245.9 968.3L246.4 965.7L246.9 963.2L247.4 961.8L247.5 961.8L247.9 962.1L248.4 963.2L248.9 964.5L249.4 965.6L249.7 965.9L249.9 966.0L250.4 966.3L250.9 966.5L251.4 966.6L251.9 966.8L252.4 966.8L252.5 966.8L252.9 965.5L253.4 961.6L253.9 957.5L254.4 955.6L254.9 956.8L255.4 959.5L255.9 962.5L256.4 964.5L256.9 965.6L257.4 966.7L257.9 967.4L258.4 967.9L258.6 967.9L258.9 967.8L259.4 967.0L259.9 965.7L260.4 964.3L260.9 962.9L261.4 961.8L261.9 961.2L262.0 961.2L262.4 961.3L262.9 961.7L263.4 962.3L263.9 963.0L264.4 963.6L264.9 964.2L265.4 964.5L265.6 964.5L265.9 964.5L266.4 964.4L266.9 964.2L267.4 963.9L267.9 963.7L268.4 963.4L268.9 963.2L269.4 963.1L269.7 963.1L269.9 963.1L270.4 963.4L270.9 963.9L271.4 964.5L271.9 965.1L272.4 965.6L272.9 965.9L273.1 965.9L273.4 965.8L273.9 965.5L274.4 965.1L274.9 964.5L275.4 963.9L275.9 963.5L276.4 963.2L276.7 963.1L276.9 963.2L277.4 963.7L277.9 964.6L278.4 965.5L278.9 966.4L279.4 966.8L279.5 966.8L279.9 966.7L280.4 966.5L280.9 966.1L281.4 965.6L281.9 965.0L282.3 964.5L282.4 964.3L282.9 962.5L283.4 960.0L283.9 957.6L284.4 956.2L284.5 956.2L284.9 957.3L285.4 960.7L285.9 964.2L286.4 965.9L286.9 965.8L287.4 965.4L287.9 964.9L288.4 964.2L288.9 963.6L289.4 963.0L289.9 962.6L290.4 962.3L290.6 962.3L290.9 962.4L291.4 962.6L291.9 963.1L292.4 963.7L292.9 964.4L293.4 965.0L293.9 965.5L294.4 965.8L294.8 965.9L294.9 965.9L295.4 965.7L295.9 965.3L296.4 964.7L296.9 964.1L297.4 963.5L297.9 962.9L298.4 962.5L298.9 962.3L299.0 962.3L299.4 962.4L299.9 962.8L300.4 963.5L300.9 964.2L301.4 965.0L301.9 965.8L302.4 966.4L302.9 966.7L303.2 966.8L303.4 966.8L303.9 966.7L304.4 966.5L304.9 966.3L305.4 966.0L305.9 965.7L306.4 965.4L306.9 965.1L307.4 964.8L307.9 964.6L308.4 964.5L308.7 964.5L308.9 964.5L309.4 964.5L309.9 964.6L310.4 964.6L310.9 964.7L311.4 964.8L311.9 964.9L312.4 965.0L312.9 965.1L313.4 965.2L313.9 965.3L314.3 965.4L314.4 965.4L314.9 965.5L315.4 965.6L315.9 965.8L316.4 965.9L316.9 966.0L317.4 966.2L317.9 966.3L318.4 966.5L318.9 966.6L319.4 966.8L319.9 966.9L320.4 967.1L320.9 967.2L321.4 967.3L321.9 967.5L322.4 967.6L322.9 967.7L323.4 967.7L323.9 967.8L324.4 967.9L324.9 967.9L325.4 967.9L325.9 967.9L326.4 967.9L326.9 967.9L327.4 967.9L327.9 967.9L328.4 967.9L328.9 967.9L329.4 967.9L329.9 967.9L330.4 967.9L330.9 967.9L331.4 967.9L331.9 967.9L332.4 967.9L332.9 967.9L333.4 967.9L333.9 967.9L334.4 967.9L334.9 967.9L335.4 967.9L335.9 967.9L336.4 967.9L336.6 967.9L336.9 967.9L337.4 967.9L337.9 968.0L338.4 968.0L338.9 968.1L339.4 968.2L339.9 968.3L340.4 968.4L340.9 968.5L341.4 968.6L341.9 968.7L342.4 968.8L342.9 969.0L343.4 969.1L343.9 969.1L344.4 969.2L344.9 969.3L345.4 969.4L345.9 969.4L346.4 969.5L346.9 969.6L347.4 969.6L347.9 969.7L348.4 969.7L348.9 969.8L349.4 969.9L349.9 969.9L350.4 970.0L350.9 970.0L351.4 970.0L351.9 970.1L352.4 970.1L352.9 970.1L353.3 970.1L353.4 970.1L353.9 970.1L354.4 970.0L354.9 970.0L355.4 969.9L355.9 969.8L356.4 969.7L356.9 969.5L357.4 969.4L357.9 969.3L358.4 969.2L358.9 969.0L359.4 968.9L359.9 968.9L360.4 968.8L360.9 968.7L361.4 968.7L361.6 968.7L361.9 968.7L362.4 968.7L362.9 968.8L363.4 968.8L363.9 968.8L364.4 968.9L364.9 969.0L365.4 969.0L365.9 969.1L366.4 969.2L366.9 969.3L367.4 969.3L367.9 969.4L368.4 969.4L368.9 969.5L369.4 969.5L369.9 969.5L370.0 969.5L370.4 969.5L370.9 969.4L371.4 969.4L371.9 969.2L372.4 969.1L372.9 969.0L373.4 968.8L373.9 968.7L374.4 968.5L374.9 968.3L375.4 968.2L375.9 968.1L376.4 968.0L376.9 967.9L377.4 967.8L377.9 967.8L378.4 967.7L378.9 967.7L379.4 967.6L379.9 967.6L380.4 967.5L380.9 967.5L381.4 967.5L381.9 967.4L382.4 967.4L382.9 967.4L383.4 967.3L383.9 967.3L384.4 967.3L384.9 967.3L385.3 967.3L385.4 967.3L385.9 967.3L386.4 967.4L386.9 967.5L387.4 967.6L387.9 967.7L388.4 967.9L388.9 968.0L389.4 968.2L389.9 968.3L390.4 968.5L390.9 968.6L391.4 968.6L391.9 968.7L392.2 968.7L392.4 968.7L392.9 968.7L393.4 968.7L393.9 968.6L394.4 968.6L394.9 968.5L395.4 968.4L395.9 968.3L396.4 968.2L396.9 968.1L397.4 968.0L397.9 967.9L398.4 967.8L398.9 967.7L399.4 967.5L399.9 967.4L400.4 967.3L400.9 967.2L401.4 967.1L401.9 967.0L402.4 966.9L402.9 966.9L403.3 966.8L403.4 966.8L403.9 966.7L404.4 966.7L404.9 966.6L405.4 966.6L405.9 966.5L406.4 966.5L406.9 966.4L407.4 966.4L407.9 966.3L408.4 966.3L408.9 966.3L409.4 966.2L409.9 966.2L410.4 966.1L410.9 966.1L411.4 966.1L411.9 966.0L412.4 966.0L412.9 965.9L413.4 965.9L413.9 965.8L414.4 965.8L414.9 965.7L415.4 965.7L415.9 965.6L416.4 965.5L416.9 965.5L417.3 965.4L417.4 965.4L417.9 965.3L418.4 965.2L418.9 965.1L419.4 965.0L419.9 964.9L420.4 964.7L420.9 964.6L421.4 964.5L421.9 964.3L422.4 964.2L422.9 964.0L423.4 963.8L423.9 963.7L424.4 963.5L424.9 963.3L425.4 963.2L425.6 963.1L425.9 963.0L426.4 962.8L426.9 962.5L427.4 962.2L427.9 961.9L428.4 961.6L428.9 961.3L429.4 961.1L429.9 960.9L430.4 960.7L430.9 960.6L431.2 960.6L431.4 960.6L431.9 960.6L432.4 960.7L432.9 960.8L433.4 960.9L433.9 961.0L434.4 961.1L434.9 961.2L435.4 961.2L435.9 961.0L436.4 960.6L436.9 959.9L437.4 959.2L437.9 958.4L438.4 957.7L438.9 957.2L439.4 957.0L439.5 957.0L439.9 957.0L440.4 957.0L440.9 957.0L441.4 957.0L441.9 957.0L442.4 957.0L442.9 957.0L443.4 957.0L443.7 957.0L443.9 957.0L444.4 957.3L444.9 957.8L445.4 958.5L445.9 959.4L446.4 960.2L446.9 961.0L447.4 961.8L447.9 962.3L448.4 962.7L448.9 963.1L449.4 963.5L449.9 963.9L450.4 964.2L450.9 964.5L451.4 964.8L451.9 965.1L452.4 965.4L452.9 965.6L453.4 965.9L453.5 965.9L453.9 966.1L454.4 966.3L454.9 966.5L455.4 966.7L455.9 966.9L456.4 967.1L456.9 967.3L457.4 967.5L457.9 967.6L458.4 967.8L458.9 968.0L459.4 968.1L459.9 968.3L460.4 968.4L460.9 968.5L461.4 968.6L461.9 968.6L462.4 968.7L462.9 968.7L463.2 968.7L463.4 968.7L463.9 968.7L464.4 968.7L464.9 968.7L465.4 968.6L465.9 968.6L466.4 968.6L466.9 968.5L467.4 968.5L467.9 968.4L468.4 968.4L468.9 968.4L469.4 968.3L469.9 968.3L470.4 968.2L470.9 968.2L471.4 968.1L471.9 968.1L472.4 968.0L472.9 968.0L473.4 968.0L473.9 967.9L474.4 967.9L474.9 967.9L475.4 967.9L475.7 967.9L475.9 967.9L476.4 967.9L476.9 967.9L477.4 967.9L477.9 968.0L478.4 968.0L478.9 968.0L479.4 968.0L479.9 968.1L480.4 968.1L480.9 968.2L481.4 968.2L481.9 968.2L482.4 968.3L482.9 968.3L483.4 968.4L483.9 968.4L484.4 968.4L484.9 968.5L485.4 968.5L485.9 968.6L486.4 968.6L486.9 968.6L487.4 968.6L487.9 968.7L488.4 968.7L488.9 968.7L489.4 968.7L489.6 968.7L489.9 968.7L490.4 968.6L490.9 968.4L491.4 968.2L491.9 968.0L492.4 967.7L492.9 967.4L493.4 967.0L493.8 966.8L493.9 966.7L494.4 966.4L494.9 965.9L495.4 965.4L495.9 964.8L496.4 964.2L496.9 963.7L497.4 963.1L497.9 962.7L498.4 962.3L498.9 962.0L499.4 961.8L499.9 961.7L500.4 961.6L500.9 961.5L501.4 961.5L501.9 961.4L502.4 961.3L502.9 961.3L503.4 961.3L503.9 961.2L504.4 961.2L504.9 961.2L505.0 961.2L505.4 961.3L505.9 961.5L506.4 961.9L506.9 962.4L507.4 962.9L507.9 963.6L508.4 964.3L508.9 964.9L509.4 965.6L509.9 966.2L510.4 966.7L510.5 966.8L510.9 967.2L511.4 967.7L511.9 968.2L512.4 968.7L512.9 969.2L513.4 969.6L513.9 969.9L514.4 970.1L514.7 970.1L514.9 970.1L515.4 970.1L515.9 970.0L516.4 969.9L516.9 969.9L517.4 969.7L517.9 969.6L518.4 969.5L518.9 969.3L519.4 969.1L519.9 969.0L520.4 968.8L520.6 968.7L520.9 968.6L521.4 968.2L521.9 967.8L522.4 967.2L522.9 966.6L523.4 966.0L523.9 965.5L524.4 964.9L524.9 964.5L525.4 964.2L525.9 964.0L526.1 964.0L526.4 964.0L526.9 964.0L527.4 964.1L527.9 964.1L528.4 964.2L528.9 964.2L529.4 964.3L529.9 964.4L530.4 964.5L530.9 964.6L531.4 964.7L531.9 964.8L532.4 964.9L532.9 965.1L533.1 965.1L533.4 965.2L533.9 965.3L534.4 965.5L534.9 965.8L535.4 966.0L535.9 966.3L536.4 966.6L536.9 966.9L537.4 967.1L537.9 967.4L538.4 967.6L538.9 967.7L539.4 967.8L539.9 967.9L540.1 967.9L540.4 967.9L540.9 967.8L541.4 967.8L541.9 967.6L542.4 967.5L542.9 967.3L543.4 967.1L543.9 966.9L544.4 966.7L544.9 966.5L545.4 966.3L545.9 966.1L546.4 965.9L546.9 965.8L547.4 965.6L547.9 965.5L548.4 965.4L548.9 965.3L549.4 965.3L549.9 965.2L550.4 965.1L550.9 965.1L551.4 965.0L551.9 964.9L552.4 964.9L552.9 964.8L553.4 964.8L553.9 964.7L554.4 964.6L554.9 964.6L555.4 964.5L555.9 964.5L556.4 964.4L556.9 964.4L557.4 964.4L557.9 964.3L558.4 964.3L558.9 964.2L559.4 964.2L559.9 964.2L560.4 964.1L560.9 964.1L561.4 964.1L561.9 964.1L562.4 964.0L562.9 964.0L563.4 964.0L563.9 964.0L564.4 964.0L564.9 964.0L565.1 964.0L565.4 964.0L565.9 964.0L566.4 964.0L566.9 964.0L567.4 964.0L567.9 964.0L568.4 964.1L568.9 964.1L569.4 964.1L569.9 964.1L570.4 964.1L570.9 964.2L571.4 964.2L571.9 964.2L572.4 964.3L572.9 964.3L573.4 964.3L573.9 964.3L574.4 964.4L574.9 964.4L575.4 964.4L575.9 964.5L576.2 964.5L576.4 964.5L576.9 964.6L577.4 964.6L577.9 964.7L578.4 964.7L578.9 964.8L579.4 964.9L579.9 965.0L580.4 965.1L580.9 965.1L581.4 965.2L581.9 965.3L582.4 965.4L582.9 965.5L583.4 965.6L583.9 965.6L584.4 965.7L584.9 965.8L585.4 965.8L585.9 965.8L586.4 965.9L586.9 965.9L587.4 965.9L587.9 965.9L588.4 965.9L588.9 965.9L589.4 965.9L589.9 965.9L590.4 965.8L590.9 965.8L591.4 965.8L591.9 965.8L592.4 965.8L592.9 965.7L593.4 965.7L593.9 965.7L594.4 965.6L594.9 965.6L595.4 965.6L595.9 965.5L596.4 965.5L596.9 965.4L597.4 965.4L597.9 965.4L598.4 965.3L598.9 965.3L599.4 965.2L599.9 965.2L600.4 965.2L600.9 965.1L601.4 965.1L601.9 965.0L602.4 965.0L602.9 965.0L603.4 964.9L603.9 964.9L604.4 964.8L604.9 964.8L605.4 964.8L605.9 964.7L606.4 964.7L606.9 964.7L607.4 964.6L607.9 964.6L608.4 964.6L608.9 964.6L609.4 964.6L609.9 964.5L610.4 964.5L610.9 964.5L611.4 964.5L611.9 964.5L612.4 964.5L612.9 964.5L613.4 964.5L613.9 964.5L614.4 964.5L614.9 964.5L615.4 964.6L615.9 964.6L616.4 964.6L616.9 964.6L617.4 964.6L617.9 964.7L618.4 964.7L618.9 964.7L619.4 964.8L619.9 964.8L620.4 964.8L620.9 964.9L621.4 964.9L621.9 964.9L622.4 965.0L622.9 965.0L623.4 965.0L623.9 965.1L624.4 965.1L624.9 965.1L625.4 965.2L625.9 965.2L626.4 965.2L626.9 965.3L627.4 965.3L627.9 965.3L628.4 965.3L628.9 965.3L629.4 965.4L629.9 965.4L630.4 965.4L630.9 965.4L631.4 965.4L631.9 965.4L632.4 965.4L632.9 965.4L633.4 965.4L633.9 965.4L634.4 965.4L634.9 965.4L635.4 965.4L635.9 965.4L636.4 965.4L636.9 965.4L637.4 965.4L637.9 965.4L638.4 965.4L638.9 965.4L639.4 965.4L639.9 965.4L640.4 965.4L640.9 965.4L641.4 965.4L641.9 965.4L642.4 965.4L642.9 965.4L643.4 965.4L643.9 965.4L644.4 965.4L644.9 965.4L645.4 965.4L645.9 965.4L646.4 965.4L646.9 965.4L647.2 965.4L647.4 965.5L647.9 966.1L648.4 967.0L648.9 967.7L649.2 967.9L649.4 967.9L649.9 967.4L650.4 966.6L650.9 965.7L651.4 964.9L651.9 964.5L652.0 964.5L652.4 964.5L652.9 964.6L653.4 964.6L653.9 964.7L654.4 964.8L654.9 964.9L655.4 965.1L655.9 965.2L656.4 965.3L656.9 965.5L657.4 965.6L657.9 965.7L658.4 965.8L658.9 965.9L659.4 965.9L659.7 965.9L659.9 965.9L660.4 965.5L660.9 964.8L661.4 964.1L661.9 963.4L662.4 963.1L662.5 963.1L662.9 963.2L663.4 963.4L663.9 963.8L664.4 964.3L664.9 964.7L665.4 965.0L665.9 965.1L666.4 964.8L666.9 964.1L667.4 963.4L667.9 963.0L668.1 962.9L668.4 962.9L668.9 963.2L669.4 963.6L669.9 964.1L670.4 964.6L670.9 965.1L671.4 965.5L671.9 965.8L672.3 965.9L672.4 965.9L672.9 965.6L673.4 964.9L673.9 964.2L674.4 963.5L674.9 963.1L675.1 963.1L675.4 963.1L675.9 963.4L676.4 963.8L676.9 964.4L677.4 964.9L677.9 965.5L678.4 965.9L678.9 966.2L679.2 966.2L679.4 966.2L679.9 966.0L680.4 965.6L680.9 965.1L681.4 964.5L681.9 964.0L682.4 963.5L682.9 963.2L683.4 963.1L683.9 963.4L684.4 964.0L684.9 964.8L685.4 965.6L685.9 966.1L686.2 966.2L686.4 966.2L686.9 965.9L687.4 965.4L687.9 964.8L688.4 964.1L688.9 963.6L689.4 963.2L689.8 963.1L689.9 963.1L690.4 963.3L690.9 963.6L691.4 964.1L691.9 964.6L692.4 965.2L692.9 965.7L693.2 965.9L693.4 966.1L693.9 966.5L694.4 966.9L694.9 967.4L695.4 967.8L695.9 968.2L696.4 968.5L696.9 968.7L697.3 968.7L697.4 968.7L697.9 968.5L698.4 968.0L698.9 967.3L699.4 966.5L699.9 965.6L700.4 964.7L700.9 963.9L701.4 963.2L701.5 963.1L701.9 962.7L702.4 962.2L702.9 961.7L703.4 961.3L703.9 960.9L704.4 960.4L704.9 959.9L705.4 959.4L705.7 959.0L705.9 958.7L706.4 957.8L706.9 956.7L707.4 955.6L707.9 954.5L708.4 953.6L708.9 953.0L709.3 952.8L709.4 952.8L709.9 952.8L710.4 952.9L710.9 953.0L711.4 953.1L711.9 953.3L712.1 953.4L712.4 953.7L712.9 954.7L713.4 956.2L713.9 958.1L714.4 960.0L714.9 961.8L715.4 963.8L715.9 966.2L716.4 968.5L716.9 970.2L717.4 970.9L717.9 970.4L718.4 969.0L718.9 967.2L719.4 965.2L719.6 964.5L719.9 963.2L720.4 960.4L720.9 957.6L721.4 955.4L721.8 954.8L721.9 954.9L722.4 956.7L722.9 960.2L723.4 964.0L723.9 967.0L724.3 967.9L724.4 967.9L724.9 967.4L725.4 966.3L725.9 965.0L726.4 963.5L726.9 962.2L727.1 961.8L727.4 961.2L727.9 960.2L728.4 959.1L728.9 958.1L729.4 957.2L729.9 956.4L730.4 955.8L730.7 955.6L730.9 955.5L731.4 955.2L731.9 955.0L732.4 954.8L732.9 954.6L733.4 954.4L733.9 954.3L734.4 954.2L734.9 954.2L735.4 954.3L735.9 954.5L736.4 954.8L736.9 955.3L737.4 955.8L737.9 956.3L738.4 956.9L738.9 957.4L739.1 957.6L739.4 957.9L739.9 958.5L740.4 959.2L740.9 960.0L741.4 960.7L741.9 961.5L742.4 962.3L742.9 963.0L743.4 963.7L743.9 964.4L744.4 964.9L744.6 965.1L744.9 965.4L745.4 965.7L745.9 966.1L746.4 966.4L746.9 966.7L747.4 967.0L747.9 967.3L748.4 967.6L748.8 967.9L748.9 968.0L749.4 968.4L749.9 968.9L750.4 969.4L750.9 969.9L751.4 970.1L751.6 970.1L751.9 969.8L752.4 968.4L752.9 966.5L753.4 965.0L753.8 964.5L753.9 964.5L754.4 965.3L754.9 966.7L755.4 968.4L755.9 969.9L756.4 970.8L756.6 970.9L756.9 970.8L757.4 970.1L757.9 968.9L758.4 967.4L758.9 966.0L759.4 964.6L759.9 963.6L760.4 963.1L760.5 963.1L760.9 963.4L761.4 964.3L761.9 965.6L762.4 967.0L762.9 968.4L763.4 969.3L763.6 969.5L763.9 969.7L764.4 970.0L764.9 970.3L765.4 970.6L765.9 970.7L766.4 970.9L766.9 970.9L767.4 970.2L767.9 968.6L768.4 966.6L768.9 964.6L769.4 963.3L769.7 963.1L769.9 963.1L770.4 963.3L770.9 963.7L771.4 964.0L771.9 964.3L772.4 964.5L772.5 964.5L772.9 964.1L773.4 963.0L773.9 961.6L774.4 960.6L774.7 960.4L774.9 960.5L775.4 961.2L775.9 962.1L776.4 962.9L776.7 963.1L776.9 962.7L777.4 960.0L777.9 957.7L778.0 957.6L778.4 958.8L778.9 962.7L779.4 966.9L779.9 969.4L780.0 969.5L780.4 968.5L780.9 965.1L781.4 960.9L781.9 957.4L782.2 956.2L782.4 955.8L782.9 954.7L783.4 954.0L783.9 953.5L784.2 953.4L784.4 953.6L784.9 955.7L785.4 958.1L785.8 959.0L785.9 959.0L786.4 957.9L786.9 956.1L787.4 954.5L787.8 954.0L787.9 954.1L788.4 955.6L788.9 958.5L789.4 961.7L789.9 964.2L790.0 964.5L790.4 965.6L790.9 967.0L791.4 968.2L791.9 969.1L792.4 969.5L792.5 969.5L792.9 969.0L793.4 967.3L793.9 965.2L794.4 963.6L794.7 963.1L794.9 963.0L795.4 962.8L795.9 962.6L796.4 962.5L796.9 962.4L797.4 962.3L797.9 962.2L798.4 962.0L798.9 961.8L799.4 961.3L799.9 960.4L800.4 959.3L800.9 958.3L801.4 957.7L801.7 957.6L801.9 957.7L802.4 958.6L802.9 960.1L803.4 961.8L803.9 963.2L804.4 964.0L804.5 964.0L804.9 963.8L805.4 963.2L805.9 962.2L806.4 961.1L806.9 960.1L807.4 959.3L807.8 959.0L807.9 959.0L808.4 958.8L808.9 958.6L809.4 958.5L809.9 958.4L810.4 958.4L810.6 958.4L810.9 958.5L811.4 959.2L811.9 960.2L812.4 961.4L812.9 962.7L813.4 963.7L813.9 964.4L814.2 964.5L814.4 964.5L814.9 964.3L815.4 964.0L815.9 963.5L816.4 963.1L816.9 962.6L817.4 962.2L817.9 961.9L818.4 961.8L818.9 962.0L819.4 962.4L819.9 963.0L820.4 963.6L820.9 963.9L821.2 964.0L821.4 963.9L821.9 963.4L822.4 962.6L822.9 961.6L823.4 960.8L823.9 960.4L824.0 960.4L824.4 960.5L824.9 961.0L825.4 961.8L825.9 962.8L826.4 963.7L826.8 964.5L826.9 964.7L827.4 966.0L827.9 967.5L828.4 968.8L828.9 969.5L829.0 969.5L829.4 969.0L829.9 967.3L830.4 964.9L830.9 962.6L831.4 960.9L831.8 960.4L831.9 960.4L832.4 961.0L832.9 962.3L833.4 963.7L833.9 965.0L834.4 965.8L834.6 965.9L834.9 965.6L835.4 964.1L835.9 962.0L836.4 959.8L836.9 958.1L837.3 957.6L837.4 957.7L837.9 959.7L838.4 963.4L838.9 967.3L839.4 969.8L839.6 970.1L839.9 970.0L840.4 969.7L840.9 969.2L841.4 968.4L841.9 967.6L842.4 966.7L842.9 965.9L843.4 965.0L843.9 964.0L844.4 962.9L844.9 961.8L845.4 960.5L845.9 959.2L846.2 958.4L846.4 957.8L846.9 955.9L847.4 953.7L847.9 951.6L848.4 950.0L848.9 949.2L849.0 949.2L849.4 949.7L849.9 951.6L850.4 954.0L850.9 956.3L851.3 957.6L851.4 957.8L851.9 958.9L852.4 960.0L852.9 960.9L853.4 961.5L853.9 961.8L854.0 961.8L854.4 961.5L854.9 960.6L855.4 959.6L855.9 959.0L856.0 959.0L856.4 960.0L856.9 963.1L857.4 966.4L857.9 967.9L858.4 966.4L858.9 962.7L859.4 958.0L859.9 953.6L860.4 950.7L860.7 950.1L860.9 950.3L861.4 952.1L861.9 954.8L862.4 957.3L862.9 958.4L863.4 958.2L863.9 957.6L864.4 956.9L864.9 956.1L865.4 955.4L865.9 954.9L866.3 954.8L866.4 954.8L866.9 955.1L867.4 955.8L867.9 956.8L868.4 957.7L868.9 958.6L869.4 959.3L869.9 959.5L870.4 959.4L870.9 959.2L871.4 958.8L871.9 958.4L872.4 957.9L872.9 957.3L873.4 956.8L873.9 956.4L874.4 956.0L874.9 955.7L875.4 955.6L875.5 955.6L875.9 955.8L876.4 956.4L876.9 957.2L877.4 958.2L877.9 959.2L878.4 959.9L878.9 960.4L879.1 960.4L879.4 960.3L879.9 960.0L880.4 959.4L880.9 958.8L881.4 958.2L881.9 957.8L882.4 957.6L882.9 957.7L883.4 958.0L883.9 958.5L884.4 959.0L884.9 959.7L885.4 960.3L885.9 961.0L886.4 961.6L886.6 961.8L886.9 962.1L887.4 962.8L887.9 963.6L888.4 964.3L888.9 965.0L889.4 965.5L889.9 965.8L890.2 965.9L890.4 965.9L890.9 965.5L891.4 964.7L891.9 963.9L892.4 963.0L892.9 962.2L893.4 961.8L893.6 961.8L893.9 961.8L894.4 962.1L894.9 962.4L895.4 962.9L895.9 963.4L896.4 963.9L896.9 964.2L897.4 964.5L897.7 964.5L897.9 964.5L898.4 964.4L898.9 964.2L899.4 964.0L899.9 963.8L900.4 963.5L900.9 963.3L901.4 963.2L901.9 963.1L902.4 963.2L902.9 963.5L903.4 963.9L903.9 964.3L904.4 964.6L904.9 964.7L905.4 964.6L905.9 964.4L906.4 964.1L906.9 963.7L907.4 963.4L907.9 963.2L908.4 963.0L908.6 963.0L908.9 963.1L909.4 963.3L909.9 963.8L910.4 964.4L910.9 965.0L911.4 965.5L911.9 965.8L912.3 965.9L912.4 965.9L912.9 965.9L913.4 965.7L913.9 965.6L914.4 965.4L914.9 965.2L915.4 965.1L915.9 964.9L916.4 964.8L916.9 964.7L917.2 964.7L917.4 964.7L917.9 964.7L918.4 964.8L918.9 964.9L919.4 965.0L919.9 965.1L920.4 965.2L920.9 965.3L921.4 965.4L921.9 965.6L922.4 965.7L922.9 965.8L923.4 965.8L923.9 965.9L924.4 965.9L924.5 965.9L924.9 965.8L925.4 965.5L925.9 964.9L926.4 964.1L926.9 963.1L927.4 962.0L927.9 960.7L928.2 959.8L928.4 959.0L928.9 955.7L929.4 950.8L929.9 945.0L930.4 938.9L930.7 935.3L930.9 932.9L931.4 926.0L931.9 918.4L932.4 910.3L932.9 902.1L933.4 894.1L933.9 886.6L934.3 881.3L934.4 880.1L934.9 874.0L935.4 868.2L935.9 862.8L936.4 857.8L936.8 854.3L936.9 853.5L937.4 849.6L937.9 846.2L938.4 843.0L938.9 840.0L939.4 837.0L939.9 833.8L940.4 830.5L940.5 829.8L940.9 827.0L941.4 823.7L941.9 820.3L942.4 816.7L942.9 812.7L943.4 808.3L943.7 805.3L943.9 803.0L944.4 795.6L944.9 786.9L945.4 778.2L945.9 770.8L946.1 768.5L946.4 765.3L946.9 759.9L947.4 755.0L947.9 751.2L948.4 749.1L948.6 748.9L948.9 749.1L949.4 750.1L949.9 751.8L950.4 754.1L950.8 756.2L950.9 756.9L951.4 763.0L951.9 772.9L952.4 785.1L952.9 798.0L953.4 810.3L953.5 812.6L953.9 821.9L954.4 834.5L954.9 847.5L955.4 860.1L955.9 871.6L956.4 881.3L956.9 889.7L957.4 897.6L957.9 905.1L958.4 911.9L958.9 918.2L959.4 923.8L959.9 928.7L960.1 930.4L960.4 932.9L960.9 936.9L961.4 940.7L961.9 944.2L962.4 947.5L962.9 950.5L963.4 953.3L963.9 955.7L964.4 957.8L964.9 959.5L965.0 959.8L965.4 961.0L965.9 962.3L966.4 963.6L966.9 964.8L967.4 965.7L967.9 966.5L968.4 967.0L968.7 967.2L968.9 967.3L969.4 967.5L969.9 967.7L970.4 967.8L970.9 967.9L971.4 968.0L971.9 968.1L972.4 968.2L972.9 968.3L973.4 968.4L973.6 968.4L973.9 968.4L974.4 968.5L974.9 968.6L975.4 968.7L975.9 968.8L976.4 968.8L976.9 968.9L977.4 969.0L977.9 969.1L978.4 969.1L978.9 969.2L979.4 969.3L979.9 969.3L980.4 969.4L980.9 969.4L981.4 969.5L981.9 969.5L982.4 969.5L982.9 969.6L983.4 969.6L983.9 969.6L984.4 969.6L984.6 969.6L984.9 969.6L985.4 969.5L985.9 969.4L986.4 969.2L986.9 968.9L987.4 968.6L987.9 968.2L988.4 967.8L988.9 967.3L989.4 966.8L989.5 966.7L989.9 966.1L990.4 964.8L990.9 963.1L991.4 960.8L991.9 958.0L992.0 957.4L992.4 952.9L992.9 943.1L993.4 931.0L993.9 919.4L994.4 910.8L994.9 904.5L995.4 898.5L995.9 894.1L996.4 892.4L996.9 893.1L997.4 894.8L997.9 897.3L998.1 898.5L998.4 901.5L998.9 910.7L999.4 922.1L999.9 932.3L1000.1 935.3L1000.4 939.2L1000.9 945.6L1001.4 951.3L1001.9 955.8L1002.4 958.4L1002.5 958.6L1002.9 959.2L1003.4 959.7L1003.9 960.0L1004.4 960.3L1004.9 960.9L1005.0 961.0L1005.4 961.9L1005.9 963.7L1006.4 965.6L1006.9 966.9L1007.2 967.2L1007.4 967.1L1007.9 966.5L1008.4 965.4L1008.9 964.1L1009.1 963.5L1009.4 962.4L1009.9 959.7L1010.4 956.4L1010.9 953.2L1011.4 950.7L1011.6 950.0L1011.9 949.2L1012.4 948.0L1012.9 946.9L1013.4 946.1L1013.9 945.6L1014.1 945.6L1014.4 945.6L1014.9 945.7L1015.4 945.9L1015.9 946.2L1016.4 946.5L1016.9 946.8L1017.2 947.0L1017.4 947.1L1017.9 947.7L1018.4 948.3L1018.9 949.0L1019.4 949.6L1019.9 949.9L1020.2 950.0L1020.4 949.6L1020.9 946.2L1021.4 941.5L1021.9 938.1L1022.1 937.7L1022.4 938.0L1022.9 939.4L1023.4 941.4L1023.9 945.5L1024.4 951.6L1024.9 957.1L1025.1 958.6L1025.4 960.3L1025.9 963.1L1026.4 965.4L1026.9 967.1L1027.4 967.9L1027.5 967.9L1027.9 967.6L1028.4 966.8L1028.9 965.7L1029.4 964.7L1029.9 964.2L1030.0 964.2L1030.4 964.6L1030.9 965.8L1031.4 967.1L1031.9 967.9L1032.0 967.9L1032.4 967.3L1032.9 965.3L1033.4 962.8L1033.9 960.7L1034.4 959.8L1034.9 960.0L1035.4 960.4L1035.9 960.8L1036.4 961.0L1036.9 960.6L1037.4 959.4L1037.9 957.8L1038.4 955.8L1038.6 954.9L1038.9 952.8L1039.4 947.1L1039.9 940.9L1040.4 936.8L1040.5 936.5L1040.9 935.7L1041.4 934.7L1041.9 934.0L1042.4 933.3L1042.9 932.8L1043.4 932.5L1043.9 932.3L1044.2 932.3L1044.4 932.3L1044.9 932.7L1045.4 933.4L1045.9 934.4L1046.4 935.6L1046.9 936.9L1047.2 937.7L1047.4 938.3L1047.9 940.4L1048.4 943.1L1048.9 946.2L1049.1 947.5L1049.4 949.8L1049.9 954.7L1050.4 959.5L1050.8 962.3L1050.9 962.8L1051.4 965.5L1051.9 967.7L1052.4 969.0L1052.6 969.1L1052.9 969.1L1053.4 969.0L1053.9 968.9L1054.4 968.6L1054.9 968.4L1055.4 968.1L1055.9 967.7L1056.4 967.3L1056.9 966.8L1057.0 966.7L1057.4 966.0L1057.9 964.3L1058.4 962.0L1058.9 959.4L1059.4 956.8L1059.9 954.5L1060.4 952.9L1060.7 952.4L1060.9 952.2L1061.4 951.8L1061.9 951.5L1062.4 951.3L1062.9 951.1L1063.4 950.8L1063.9 950.4L1064.3 950.0L1064.4 949.8L1064.9 947.2L1065.4 942.7L1065.9 937.4L1066.4 932.4L1066.9 928.9L1067.3 927.9L1067.4 927.9L1067.9 928.1L1068.4 928.5L1068.9 929.1L1069.4 929.8L1069.9 930.7L1070.4 931.6L1070.9 932.6L1071.0 932.8L1071.4 933.7L1071.9 935.1L1072.4 936.8L1072.9 938.9L1073.4 941.1L1073.7 942.6L1073.9 943.8L1074.4 947.6L1074.9 952.2L1075.4 956.9L1075.9 961.0L1076.1 962.3L1076.4 964.1L1076.9 967.2L1077.4 969.4L1077.8 970.1L1077.9 970.1L1078.4 969.6L1078.9 968.7L1079.4 967.5L1079.5 967.2L1079.9 965.2L1080.4 961.0L1080.9 956.4L1081.4 952.8L1081.5 952.4L1081.9 950.8L1082.4 949.2L1082.9 948.3L1083.0 948.3L1083.4 950.1L1083.9 955.1L1084.4 959.8L1084.9 963.2L1085.4 966.6L1085.9 969.1L1086.4 970.1L1086.9 969.2L1087.4 966.9L1087.9 963.6L1088.4 959.8L1088.9 953.7L1089.4 944.1L1089.9 932.5L1090.4 920.2L1090.9 908.7L1091.3 900.9L1091.4 899.2L1091.9 890.8L1092.4 882.6L1092.9 874.8L1093.4 867.7L1093.9 861.3L1094.3 856.8L1094.4 855.8L1094.9 850.8L1095.4 846.4L1095.9 842.4L1096.4 839.0L1096.7 837.2L1096.9 836.1L1097.4 833.8L1097.9 831.8L1098.4 830.1L1098.9 828.5L1099.4 826.9L1099.9 825.1L1100.4 823.2L1100.9 821.0L1101.1 820.0L1101.4 818.4L1101.9 815.4L1102.4 812.1L1102.9 808.5L1103.4 804.6L1103.9 800.5L1104.4 796.1L1104.9 791.5L1105.4 786.7L1105.9 781.8L1106.0 780.8L1106.4 776.3L1106.9 769.4L1107.4 761.9L1107.9 754.0L1108.4 746.4L1108.9 739.6L1109.4 734.1L1109.7 731.7L1109.9 730.3L1110.4 726.8L1110.9 724.2L1111.4 723.1L1111.9 725.5L1112.4 731.4L1112.9 739.1L1113.4 752.0L1113.9 772.3L1114.4 795.8L1114.9 818.8L1115.4 837.2L1115.9 852.8L1116.4 868.8L1116.9 883.7L1117.4 895.8L1117.9 903.7L1118.3 905.8L1118.4 905.7L1118.9 903.4L1119.4 898.6L1119.9 892.4L1120.0 891.1L1120.4 883.5L1120.9 868.9L1121.4 851.0L1121.9 832.3L1122.4 815.5L1122.5 812.6L1122.9 801.1L1123.4 786.7L1123.9 772.9L1124.4 760.8L1124.9 751.3L1125.4 743.2L1125.9 735.5L1126.4 729.3L1126.9 725.9L1127.1 725.6L1127.4 727.2L1127.9 735.1L1128.4 746.6L1128.6 751.3L1128.9 759.6L1129.4 778.4L1129.9 800.5L1130.4 823.1L1130.9 842.9L1131.1 849.4L1131.4 858.2L1131.9 872.0L1132.4 884.8L1132.9 896.6L1133.4 907.5L1133.9 917.4L1134.2 923.0L1134.4 926.6L1134.9 935.5L1135.4 944.0L1135.9 951.3L1136.4 957.2L1136.7 959.8L1136.9 961.3L1137.4 964.7L1137.9 967.4L1138.4 968.4L1138.9 967.6L1139.4 965.6L1139.9 962.8L1140.4 959.8L1140.9 956.4L1141.4 952.0L1141.9 946.9L1142.4 941.2L1142.9 935.2L1143.4 928.9L1143.9 922.7L1144.4 916.6L1144.9 910.8L1145.4 905.2L1145.9 899.7L1146.4 894.0L1146.9 888.4L1147.4 882.7L1147.9 877.1L1148.4 871.4L1148.9 865.7L1149.4 860.0L1149.9 854.3L1150.4 848.7L1150.9 843.0L1151.4 837.4L1151.9 831.8L1152.3 827.4L1152.4 826.3L1152.9 820.6L1153.4 814.9L1153.9 809.1L1154.4 803.4L1154.9 798.0L1155.4 792.8L1155.9 788.1L1156.4 783.4L1156.9 778.4L1157.4 773.7L1157.9 769.4L1158.4 766.0L1158.9 764.0L1159.1 763.6L1159.4 763.3L1159.9 762.7L1160.4 762.3L1160.9 762.1L1161.4 761.9L1161.6 761.9L1161.9 762.0L1162.4 762.7L1162.9 763.4L1163.3 763.6L1163.4 763.6L1163.9 763.2L1164.4 762.5L1164.9 761.8L1165.3 761.6L1165.4 761.6L1165.9 762.9L1166.4 765.6L1166.9 769.0L1167.0 769.7L1167.4 773.6L1167.9 780.7L1168.4 789.4L1168.9 798.8L1169.4 807.7L1169.9 816.3L1170.4 825.4L1170.9 834.6L1171.4 844.0L1171.9 853.2L1172.4 862.2L1172.9 870.7L1173.1 874.0L1173.4 878.8L1173.9 886.6L1174.4 894.2L1174.9 901.6L1175.4 908.8L1175.9 915.8L1176.4 922.6L1176.8 927.9L1176.9 929.2L1177.4 936.2L1177.9 943.5L1178.4 950.4L1178.9 956.3L1179.4 960.7L1179.7 962.3L1179.9 963.1L1180.4 964.8L1180.9 966.2L1181.4 967.1L1181.7 967.2L1181.9 967.0L1182.4 965.4L1182.9 962.7L1183.4 959.4L1183.7 957.4L1183.9 956.0L1184.4 951.6L1184.9 946.2L1185.4 940.3L1185.9 934.5L1186.4 929.3L1186.9 925.2L1187.3 923.0L1187.4 922.6L1187.9 921.0L1188.4 919.8L1188.9 918.8L1189.4 918.0L1189.9 917.2L1190.4 916.4L1190.9 915.4L1191.4 914.1L1191.9 912.4L1192.0 912.0L1192.4 909.8L1192.9 905.6L1193.4 900.3L1193.9 894.1L1194.4 887.5L1194.5 886.2L1194.9 879.7L1195.4 869.4L1195.9 858.3L1196.4 848.6L1196.9 842.1L1197.4 838.0L1197.9 834.8L1198.4 833.5L1198.9 835.0L1199.4 838.5L1199.8 842.1L1199.9 843.2L1200.4 851.8L1200.9 864.6L1201.4 879.1L1201.9 893.0L1202.4 904.1L1202.5 905.8L1202.9 912.2L1203.4 920.0L1203.9 926.9L1204.4 932.2L1204.9 935.1L1205.0 935.3L1205.4 935.8L1205.9 936.2L1206.4 936.4L1206.9 936.6L1207.4 936.9L1207.9 937.3L1208.2 937.7L1208.4 938.4L1208.9 942.9L1209.4 949.5L1209.9 955.6L1210.1 957.4L1210.4 959.8L1210.9 963.9L1211.4 967.1L1211.9 968.4L1212.4 963.8L1212.9 952.9L1213.4 940.0L1213.6 935.3L1213.9 927.9L1214.4 913.7L1214.9 899.4L1215.4 887.9L1215.5 886.2L1215.9 879.7L1216.4 872.5L1216.9 868.7L1217.0 868.6L1217.4 868.6L1217.9 868.6L1218.4 868.6L1218.9 868.6L1219.0 868.6L1219.4 867.7L1219.9 864.9L1220.4 861.9L1220.9 860.5L1221.4 861.4L1221.9 863.6L1222.4 866.6L1222.9 872.2L1223.4 881.3L1223.9 892.0L1224.4 902.3L1224.6 905.8L1224.9 911.1L1225.4 920.6L1225.9 930.0L1226.4 937.9L1226.9 943.0L1227.1 943.9L1227.4 944.6L1227.9 945.4L1228.4 946.0L1228.9 946.5L1229.4 947.3L1229.5 947.5L1229.9 948.6L1230.4 950.5L1230.9 952.7L1231.4 954.9L1231.9 957.0L1232.0 957.4L1232.4 959.0L1232.9 961.2L1233.4 963.4L1233.9 965.5L1234.4 967.1L1234.9 968.2L1235.2 968.4L1235.4 968.5L1235.9 968.6L1236.4 968.7L1236.9 968.8L1237.4 968.9L1237.9 968.9L1238.4 969.0L1238.9 969.0L1239.4 969.1L1239.9 969.1L1240.4 969.1L1240.6 969.1L1240.9 969.0L1241.4 968.7L1241.9 968.1L1242.4 967.2L1242.9 966.1L1243.4 965.0L1243.5 964.7L1243.9 963.2L1244.4 960.1L1244.9 956.2L1245.4 952.1L1245.9 948.2L1246.0 947.5L1246.4 944.3L1246.9 939.8L1247.4 936.1L1247.9 934.5L1248.4 934.7L1248.9 935.2L1249.4 935.8L1249.9 936.5L1250.4 937.2L1250.9 938.0L1251.4 938.9L1251.9 940.0L1252.4 941.3L1252.8 942.6L1252.9 943.0L1253.4 946.2L1253.9 950.7L1254.4 955.6L1254.9 960.0L1255.3 962.3L1255.4 962.7L1255.9 964.8L1256.4 966.6L1256.9 968.1L1257.4 968.9L1257.7 969.1L1257.9 969.1L1258.4 968.7L1258.9 968.1L1259.4 967.2L1259.9 964.2L1260.4 958.0L1260.9 950.1L1261.4 942.1L1261.9 935.3L1262.4 929.6L1262.9 924.0L1263.4 918.5L1263.9 913.4L1264.4 908.7L1264.9 904.8L1265.1 903.4L1265.4 901.4L1265.9 898.0L1266.4 895.0L1266.9 892.7L1267.4 891.6L1267.5 891.6L1267.9 892.0L1268.4 893.5L1268.9 895.6L1269.0 896.0L1269.4 898.8L1269.9 904.7L1270.4 912.0L1270.9 919.8L1271.4 926.9L1271.7 930.4L1271.9 932.5L1272.4 938.2L1272.9 943.9L1273.4 948.9L1273.9 952.4L1274.4 953.7L1274.9 953.6L1275.4 953.3L1275.9 953.0L1276.4 952.5L1276.9 952.1L1277.4 951.7L1277.9 951.4L1278.4 951.2L1278.6 951.2L1278.9 951.2L1279.4 951.5L1279.9 951.9L1280.4 952.5L1280.9 953.3L1281.4 954.1L1281.8 954.9L1281.9 955.1L1282.4 957.6L1282.9 961.2L1283.4 964.9L1283.9 967.4L1284.2 967.9L1284.4 967.7L1284.9 965.3L1285.4 960.9L1285.5 959.8L1285.9 947.1L1286.4 917.2L1286.7 898.5L1286.9 886.1L1287.4 850.1L1287.9 813.3L1288.4 783.2L1288.9 759.1L1289.4 737.7L1289.9 722.7L1290.1 719.4L1290.4 715.9L1290.9 711.2L1291.4 708.7L1291.6 708.4L1291.9 710.2L1292.4 719.5L1292.9 733.3L1293.1 739.1L1293.4 750.6L1293.9 778.3L1294.4 809.1L1294.9 833.8L1295.0 837.2L1295.4 848.7L1295.9 861.0L1296.4 871.5L1296.9 880.8L1297.4 889.4L1297.5 891.1L1297.9 897.9L1298.4 906.3L1298.9 914.3L1299.4 921.7L1299.9 928.0L1300.4 933.0L1300.7 935.3L1300.9 936.6L1301.4 939.4L1301.9 941.9L1302.4 944.0L1302.9 945.9L1303.4 947.6L1303.9 949.3L1304.4 951.0L1304.8 952.4L1304.9 952.8L1305.4 954.8L1305.9 956.9L1306.4 959.1L1306.9 961.2L1307.4 963.1L1307.9 964.7L1308.4 965.9L1308.9 966.6L1309.2 966.7L1309.4 966.7L1309.9 966.4L1310.4 965.9L1310.9 965.3L1311.4 964.6L1311.9 963.8L1312.4 963.2L1312.9 962.7L1313.4 962.4L1313.7 962.3L1313.9 962.3L1314.4 962.8L1314.9 963.6L1315.4 964.6L1315.9 965.7L1316.4 966.8L1316.9 967.6L1317.4 968.2L1317.8 968.4L1317.9 968.4L1318.4 968.2L1318.9 967.9L1319.4 967.4L1319.9 966.9L1320.4 966.4L1320.9 966.1L1321.4 965.9L1321.5 965.9L1321.9 966.0L1322.4 966.4L1322.9 966.9L1323.4 967.6L1323.9 968.2L1324.4 968.7L1324.9 969.0L1325.2 969.1L1325.4 969.1L1325.9 968.9L1326.4 968.6L1326.9 968.3L1327.4 967.9L1327.9 967.5L1328.4 967.3L1328.9 967.2L1329.4 967.4L1329.9 967.9L1330.4 968.6L1330.9 969.3L1331.4 970.0L1331.9 970.5L1332.4 970.8L1332.5 970.8L1332.9 970.5L1333.4 969.4L1333.9 967.6L1334.4 965.4L1334.9 962.8L1335.0 962.3L1335.4 959.6L1335.9 954.8L1336.4 948.9L1336.9 942.2L1337.4 935.3L1337.9 927.1L1338.4 917.2L1338.9 906.9L1339.4 897.8L1339.9 891.1L1340.4 886.1L1340.9 881.7L1341.4 879.2L1341.6 878.9L1341.9 880.0L1342.4 885.5L1342.9 893.5L1343.4 901.0L1343.6 903.4L1343.9 906.4L1344.4 911.1L1344.9 915.6L1345.4 919.8L1345.9 923.8L1346.4 927.9L1346.9 931.9L1347.3 935.3L1347.4 936.2L1347.9 940.9L1348.4 946.1L1348.9 951.2L1349.4 955.8L1349.9 959.6L1350.4 962.0L1350.5 962.3L1350.9 963.3L1351.4 964.5L1351.9 965.5L1352.4 966.4L1352.9 967.2L1353.4 967.8L1353.9 968.2L1354.4 968.4L1354.6 968.4L1354.9 968.4L1355.4 968.4L1355.9 968.4L1356.4 968.4L1356.9 968.4L1357.4 968.4L1357.9 968.4L1358.3 968.4L1358.4 968.3L1358.9 966.5L1359.4 963.1L1359.9 959.2L1360.4 956.3L1360.8 955.4L1360.9 955.5L1361.4 958.6L1361.9 963.9L1362.4 968.2L1362.7 969.1L1362.9 969.0L1363.4 968.3L1363.9 966.9L1364.4 965.3L1364.9 963.8L1365.4 962.7L1365.7 962.3L1365.9 962.2L1366.4 961.8L1366.9 961.5L1367.4 961.3L1367.9 961.1L1368.4 961.0L1368.6 961.0L1368.9 961.3L1369.4 962.8L1369.9 964.9L1370.4 967.0L1370.9 968.3L1371.1 968.4L1371.4 967.9L1371.9 965.4L1372.4 961.6L1372.9 957.9L1373.4 955.4L1373.7 954.9L1373.9 955.1L1374.4 957.1L1374.9 960.1L1375.4 963.0L1375.9 964.6L1376.0 964.7L1376.4 963.7L1376.9 960.7L1377.4 957.6L1377.9 956.1L1378.4 956.1L1378.9 956.2L1379.4 956.5L1379.9 957.0L1380.4 957.8"/>
<!-- frame -->
<g fill="#000" shape-rendering="crispEdges">
<rect x="128" y="49" width="5" height="991"/>
<rect x="1381" y="49" width="5" height="991"/>
<rect x="128" y="49" width="1258" height="4"/>
<rect x="128" y="1035" width="1258" height="5"/>
<rect x="128" y="1035" width="5" height="22"/>
<rect x="307" y="1035" width="5" height="22"/>
<rect x="486" y="1035" width="5" height="22"/>
<rect x="665" y="1035" width="5" height="22"/>
<rect x="844" y="1035" width="5" height="22"/>
<rect x="1023" y="1035" width="5" height="22"/>
<rect x="1202" y="1035" width="5" height="22"/>
<rect x="1381" y="1035" width="5" height="22"/>
<rect x="218" y="1035" width="4" height="13"/>
<rect x="397" y="1035" width="4" height="13"/>
<rect x="576" y="1035" width="4" height="13"/>
<rect x="755" y="1035" width="4" height="13"/>
<rect x="934" y="1035" width="5" height="13"/>
<rect x="1113" y="1035" width="5" height="13"/>
<rect x="1292" y="1035" width="5" height="13"/>
</g>
<g class="tl">
<text x="130.50" y="1101.90">4000</text>
<text x="309.50" y="1101.90">3500</text>
<text x="488.50" y="1101.90">3000</text>
<text x="667.50" y="1101.90">2500</text>
<text x="846.50" y="1101.90">2000</text>
<text x="1025.50" y="1101.90">1500</text>
<text x="1204.50" y="1101.90">1000</text>
<text x="1383.50" y="1101.90">500</text>
</g>
<!-- axis titles -->
<text x="757" y="1185.5" font-size="50.9" text-anchor="middle">Wavenumber (cm<tspan font-size="33.1" dy="-20.8">-1</tspan><tspan dy="20.8">)</tspan></text>
<text transform="translate(68 543.5) rotate(-90)" font-size="50.9" text-anchor="middle" letter-spacing="-0.1">Absorbance (a.u.)</text>
<!-- annotations -->
<text x="187" y="225" font-size="41.67" letter-spacing="-0.2">O-H stretchig vibrations</text>
<text x="294" y="341.7" font-size="50.9">PEF-TiO<tspan font-size="36" dy="15">2</tspan></text>
<text x="303" y="650" font-size="50.9">PEF-Ag</text>
<text x="285" y="930.3" font-size="50.9">PEF neat</text>
<ellipse cx="222.35" cy="366.9" rx="56.45" ry="47.6" fill="none" stroke="#000" stroke-width="1" pathLength="27" stroke-dasharray="0.58 0.42" stroke-dashoffset="0.29" shape-rendering="crispEdges"/>
<line x1="205" y1="319.8" x2="231.8" y2="260.6" stroke="#000" stroke-width="1" shape-rendering="crispEdges"/>
<polygon points="241.9,238.1 226,258.3 237.7,262.9" fill="#000"/>
</svg>
</body></html>
